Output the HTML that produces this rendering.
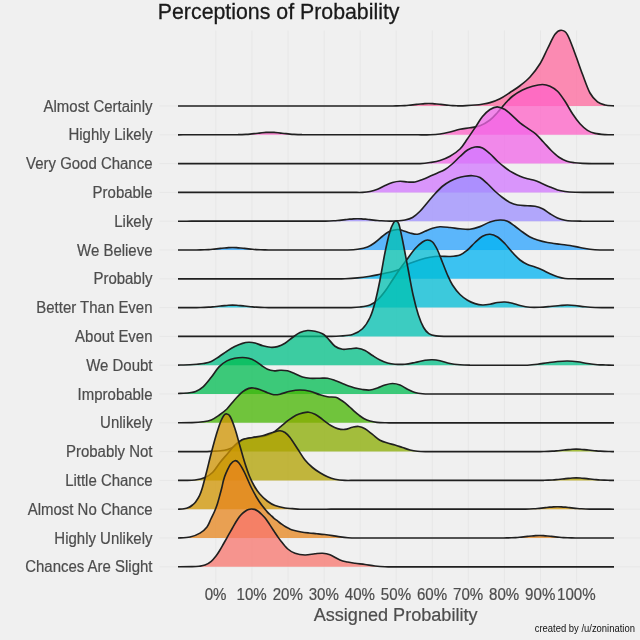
<!DOCTYPE html>
<html lang="en"><head><meta charset="utf-8"><title>Perceptions of Probability</title>
<style>
html,body{margin:0;padding:0;background:#f0f0f0;}
body{width:640px;height:640px;overflow:hidden;position:relative;font-family:"Liberation Sans",Arial,sans-serif;}
svg{position:absolute;left:0;top:0;display:block}
text{font-family:"Liberation Sans",Arial,sans-serif}
</style></head><body>
<svg width="640" height="640" viewBox="0 0 640 640">
<rect width="640" height="640" fill="#f0f0f0"/>
<path d="M215.90,30.50 V583.50 M251.97,30.50 V583.50 M288.04,30.50 V583.50 M324.11,30.50 V583.50 M360.18,30.50 V583.50 M396.25,30.50 V583.50 M432.32,30.50 V583.50 M468.39,30.50 V583.50 M504.46,30.50 V583.50 M540.53,30.50 V583.50 M576.60,30.50 V583.50 M159.50,106.00 H640.00 M159.50,134.80 H640.00 M159.50,163.60 H640.00 M159.50,192.40 H640.00 M159.50,221.20 H640.00 M159.50,250.00 H640.00 M159.50,278.80 H640.00 M159.50,307.60 H640.00 M159.50,336.40 H640.00 M159.50,365.20 H640.00 M159.50,394.00 H640.00 M159.50,422.80 H640.00 M159.50,451.60 H640.00 M159.50,480.40 H640.00 M159.50,509.20 H640.00 M159.50,538.00 H640.00 M159.50,566.80 H640.00" stroke="#e7e7e7" stroke-width="1.0" fill="none"/>
<g><path d="M178.00,106.00C179.49,106.00 183.97,106.00 186.95,106.00C189.93,106.00 192.91,106.00 195.90,106.00C198.88,106.00 201.86,106.00 204.84,106.00C207.83,105.99 210.81,105.99 213.79,105.99C216.77,105.99 219.76,105.99 222.74,105.99C225.72,105.99 228.70,105.99 231.69,105.99C234.67,105.99 237.65,105.99 240.64,105.99C243.62,105.99 246.60,105.99 249.58,105.99C252.57,105.99 255.55,105.99 258.53,105.98C261.51,105.98 264.50,105.98 267.48,105.98C270.46,105.98 273.44,105.98 276.43,105.98C279.41,105.98 282.39,105.98 285.38,105.98C288.36,105.98 291.34,105.98 294.32,105.98C297.31,105.98 300.29,105.98 303.27,105.98C306.25,105.98 309.24,105.98 312.22,105.97C315.20,105.97 318.18,105.97 321.17,105.97C324.15,105.97 327.13,105.97 330.11,105.97C333.10,105.97 336.08,105.97 339.06,105.97C342.05,105.97 345.03,105.97 348.01,105.97C350.99,105.97 353.98,105.97 356.96,105.97C359.94,105.97 362.92,105.97 365.91,105.96C368.89,105.96 371.87,105.96 374.85,105.96C377.84,105.96 380.82,105.96 383.80,105.96C386.78,105.96 390.59,105.97 392.75,105.96C394.91,105.95 395.42,105.93 396.75,105.90C398.08,105.87 399.42,105.84 400.75,105.79C402.08,105.74 403.42,105.67 404.75,105.59C406.08,105.51 407.42,105.41 408.75,105.29C410.08,105.17 411.42,105.03 412.75,104.88C414.08,104.73 415.42,104.56 416.75,104.41C418.08,104.26 419.42,104.09 420.75,103.96C422.08,103.83 423.42,103.70 424.75,103.62C426.08,103.54 427.42,103.50 428.75,103.50C430.08,103.50 431.42,103.54 432.75,103.62C434.08,103.70 435.42,103.83 436.75,103.96C438.08,104.09 439.42,104.26 440.75,104.41C442.08,104.56 443.42,104.73 444.75,104.88C446.08,105.03 447.42,105.17 448.75,105.29C450.08,105.41 451.42,105.51 452.75,105.59C454.08,105.67 455.42,105.74 456.75,105.79C458.08,105.84 459.21,105.92 460.75,105.90C462.29,105.88 463.62,105.80 466.00,105.65C468.38,105.50 472.33,105.24 475.00,105.00C477.67,104.76 479.50,104.60 482.00,104.20C484.50,103.80 487.00,103.51 490.00,102.60C493.00,101.69 496.67,100.43 500.00,98.75C503.33,97.07 506.67,94.67 510.00,92.50C513.33,90.33 516.67,88.33 520.00,85.75C523.33,83.17 526.67,80.67 530.00,77.00C533.33,73.33 537.08,68.46 540.00,63.75C542.92,59.04 545.00,53.67 547.50,48.75C550.00,43.83 552.71,37.28 555.00,34.20C557.29,31.13 559.17,30.20 561.25,30.30C563.33,30.40 565.21,30.93 567.50,34.80C569.79,38.67 572.50,46.92 575.00,53.50C577.50,60.08 580.00,67.72 582.50,74.30C585.00,80.88 587.50,88.40 590.00,93.00C592.50,97.60 595.00,99.90 597.50,101.90C600.00,103.90 602.25,104.34 605.00,105.00C607.75,105.66 612.50,105.71 614.00,105.85 L614.00,106.00 L178.00,106.00 Z" fill="rgb(255,104,158)" fill-opacity="0.75" stroke="none"/>
<path d="M178.00,106.00C179.49,106.00 183.97,106.00 186.95,106.00C189.93,106.00 192.91,106.00 195.90,106.00C198.88,106.00 201.86,106.00 204.84,106.00C207.83,105.99 210.81,105.99 213.79,105.99C216.77,105.99 219.76,105.99 222.74,105.99C225.72,105.99 228.70,105.99 231.69,105.99C234.67,105.99 237.65,105.99 240.64,105.99C243.62,105.99 246.60,105.99 249.58,105.99C252.57,105.99 255.55,105.99 258.53,105.98C261.51,105.98 264.50,105.98 267.48,105.98C270.46,105.98 273.44,105.98 276.43,105.98C279.41,105.98 282.39,105.98 285.38,105.98C288.36,105.98 291.34,105.98 294.32,105.98C297.31,105.98 300.29,105.98 303.27,105.98C306.25,105.98 309.24,105.98 312.22,105.97C315.20,105.97 318.18,105.97 321.17,105.97C324.15,105.97 327.13,105.97 330.11,105.97C333.10,105.97 336.08,105.97 339.06,105.97C342.05,105.97 345.03,105.97 348.01,105.97C350.99,105.97 353.98,105.97 356.96,105.97C359.94,105.97 362.92,105.97 365.91,105.96C368.89,105.96 371.87,105.96 374.85,105.96C377.84,105.96 380.82,105.96 383.80,105.96C386.78,105.96 390.59,105.97 392.75,105.96C394.91,105.95 395.42,105.93 396.75,105.90C398.08,105.87 399.42,105.84 400.75,105.79C402.08,105.74 403.42,105.67 404.75,105.59C406.08,105.51 407.42,105.41 408.75,105.29C410.08,105.17 411.42,105.03 412.75,104.88C414.08,104.73 415.42,104.56 416.75,104.41C418.08,104.26 419.42,104.09 420.75,103.96C422.08,103.83 423.42,103.70 424.75,103.62C426.08,103.54 427.42,103.50 428.75,103.50C430.08,103.50 431.42,103.54 432.75,103.62C434.08,103.70 435.42,103.83 436.75,103.96C438.08,104.09 439.42,104.26 440.75,104.41C442.08,104.56 443.42,104.73 444.75,104.88C446.08,105.03 447.42,105.17 448.75,105.29C450.08,105.41 451.42,105.51 452.75,105.59C454.08,105.67 455.42,105.74 456.75,105.79C458.08,105.84 459.21,105.92 460.75,105.90C462.29,105.88 463.62,105.80 466.00,105.65C468.38,105.50 472.33,105.24 475.00,105.00C477.67,104.76 479.50,104.60 482.00,104.20C484.50,103.80 487.00,103.51 490.00,102.60C493.00,101.69 496.67,100.43 500.00,98.75C503.33,97.07 506.67,94.67 510.00,92.50C513.33,90.33 516.67,88.33 520.00,85.75C523.33,83.17 526.67,80.67 530.00,77.00C533.33,73.33 537.08,68.46 540.00,63.75C542.92,59.04 545.00,53.67 547.50,48.75C550.00,43.83 552.71,37.28 555.00,34.20C557.29,31.13 559.17,30.20 561.25,30.30C563.33,30.40 565.21,30.93 567.50,34.80C569.79,38.67 572.50,46.92 575.00,53.50C577.50,60.08 580.00,67.72 582.50,74.30C585.00,80.88 587.50,88.40 590.00,93.00C592.50,97.60 595.00,99.90 597.50,101.90C600.00,103.90 602.25,104.34 605.00,105.00C607.75,105.66 612.50,105.71 614.00,105.85" fill="none" stroke="#202020" stroke-width="1.65" stroke-linejoin="round"/></g>
<g><path d="M178.00,134.80C179.33,134.80 183.33,134.80 186.00,134.79C188.67,134.79 191.33,134.79 194.00,134.79C196.67,134.79 199.33,134.78 202.00,134.78C204.67,134.78 207.33,134.78 210.00,134.78C212.67,134.78 215.33,134.77 218.00,134.77C220.67,134.77 223.33,134.77 226.00,134.77C228.67,134.76 232.00,134.77 234.00,134.76C236.00,134.75 236.67,134.73 238.00,134.70C239.33,134.67 240.67,134.64 242.00,134.59C243.33,134.54 244.67,134.47 246.00,134.39C247.33,134.31 248.67,134.21 250.00,134.09C251.33,133.97 252.67,133.83 254.00,133.68C255.33,133.53 256.67,133.36 258.00,133.21C259.33,133.06 260.67,132.89 262.00,132.76C263.33,132.63 264.67,132.50 266.00,132.42C267.33,132.34 268.67,132.30 270.00,132.30C271.33,132.30 272.67,132.34 274.00,132.42C275.33,132.50 276.67,132.63 278.00,132.76C279.33,132.89 280.67,133.06 282.00,133.21C283.33,133.36 284.67,133.53 286.00,133.68C287.33,133.83 288.67,133.97 290.00,134.09C291.33,134.21 292.67,134.31 294.00,134.39C295.33,134.47 296.67,134.54 298.00,134.59C299.33,134.64 300.67,134.67 302.00,134.70C303.33,134.73 303.86,134.75 306.00,134.76C308.14,134.77 311.90,134.76 314.86,134.76C317.81,134.76 320.76,134.76 323.71,134.77C326.67,134.77 329.62,134.77 332.57,134.77C335.52,134.77 338.48,134.77 341.43,134.77C344.38,134.77 347.33,134.77 350.29,134.77C353.24,134.78 356.19,134.78 359.14,134.78C362.10,134.78 365.05,134.78 368.00,134.78C370.95,134.78 373.90,134.78 376.86,134.78C379.81,134.78 382.76,134.78 385.71,134.79C388.67,134.79 391.62,134.79 394.57,134.79C397.52,134.79 400.48,134.79 403.43,134.79C406.38,134.79 409.33,134.79 412.29,134.79C415.24,134.80 418.19,134.80 421.14,134.80C424.10,134.80 426.86,134.93 430.00,134.80C433.14,134.67 436.67,134.47 440.00,134.00C443.33,133.53 446.67,132.78 450.00,132.00C453.33,131.22 456.67,130.00 460.00,129.30C463.33,128.60 466.67,128.38 470.00,127.80C473.33,127.22 476.67,127.10 480.00,125.80C483.33,124.50 487.08,122.22 490.00,120.00C492.92,117.78 495.00,115.21 497.50,112.50C500.00,109.79 502.50,106.46 505.00,103.75C507.50,101.04 509.58,98.54 512.50,96.25C515.42,93.96 519.17,91.67 522.50,90.00C525.83,88.33 529.17,87.17 532.50,86.25C535.83,85.33 539.58,84.50 542.50,84.50C545.42,84.50 547.50,85.12 550.00,86.25C552.50,87.38 555.00,88.75 557.50,91.25C560.00,93.75 562.50,97.50 565.00,101.25C567.50,105.00 570.00,110.00 572.50,113.75C575.00,117.50 577.50,120.97 580.00,123.75C582.50,126.53 585.00,128.79 587.50,130.40C590.00,132.01 592.08,132.70 595.00,133.40C597.92,134.10 601.83,134.37 605.00,134.60C608.17,134.83 612.50,134.77 614.00,134.80 L614.00,134.80 L178.00,134.80 Z" fill="rgb(255,97,199)" fill-opacity="0.75" stroke="none"/>
<path d="M178.00,134.80C179.33,134.80 183.33,134.80 186.00,134.79C188.67,134.79 191.33,134.79 194.00,134.79C196.67,134.79 199.33,134.78 202.00,134.78C204.67,134.78 207.33,134.78 210.00,134.78C212.67,134.78 215.33,134.77 218.00,134.77C220.67,134.77 223.33,134.77 226.00,134.77C228.67,134.76 232.00,134.77 234.00,134.76C236.00,134.75 236.67,134.73 238.00,134.70C239.33,134.67 240.67,134.64 242.00,134.59C243.33,134.54 244.67,134.47 246.00,134.39C247.33,134.31 248.67,134.21 250.00,134.09C251.33,133.97 252.67,133.83 254.00,133.68C255.33,133.53 256.67,133.36 258.00,133.21C259.33,133.06 260.67,132.89 262.00,132.76C263.33,132.63 264.67,132.50 266.00,132.42C267.33,132.34 268.67,132.30 270.00,132.30C271.33,132.30 272.67,132.34 274.00,132.42C275.33,132.50 276.67,132.63 278.00,132.76C279.33,132.89 280.67,133.06 282.00,133.21C283.33,133.36 284.67,133.53 286.00,133.68C287.33,133.83 288.67,133.97 290.00,134.09C291.33,134.21 292.67,134.31 294.00,134.39C295.33,134.47 296.67,134.54 298.00,134.59C299.33,134.64 300.67,134.67 302.00,134.70C303.33,134.73 303.86,134.75 306.00,134.76C308.14,134.77 311.90,134.76 314.86,134.76C317.81,134.76 320.76,134.76 323.71,134.77C326.67,134.77 329.62,134.77 332.57,134.77C335.52,134.77 338.48,134.77 341.43,134.77C344.38,134.77 347.33,134.77 350.29,134.77C353.24,134.78 356.19,134.78 359.14,134.78C362.10,134.78 365.05,134.78 368.00,134.78C370.95,134.78 373.90,134.78 376.86,134.78C379.81,134.78 382.76,134.78 385.71,134.79C388.67,134.79 391.62,134.79 394.57,134.79C397.52,134.79 400.48,134.79 403.43,134.79C406.38,134.79 409.33,134.79 412.29,134.79C415.24,134.80 418.19,134.80 421.14,134.80C424.10,134.80 426.86,134.93 430.00,134.80C433.14,134.67 436.67,134.47 440.00,134.00C443.33,133.53 446.67,132.78 450.00,132.00C453.33,131.22 456.67,130.00 460.00,129.30C463.33,128.60 466.67,128.38 470.00,127.80C473.33,127.22 476.67,127.10 480.00,125.80C483.33,124.50 487.08,122.22 490.00,120.00C492.92,117.78 495.00,115.21 497.50,112.50C500.00,109.79 502.50,106.46 505.00,103.75C507.50,101.04 509.58,98.54 512.50,96.25C515.42,93.96 519.17,91.67 522.50,90.00C525.83,88.33 529.17,87.17 532.50,86.25C535.83,85.33 539.58,84.50 542.50,84.50C545.42,84.50 547.50,85.12 550.00,86.25C552.50,87.38 555.00,88.75 557.50,91.25C560.00,93.75 562.50,97.50 565.00,101.25C567.50,105.00 570.00,110.00 572.50,113.75C575.00,117.50 577.50,120.97 580.00,123.75C582.50,126.53 585.00,128.79 587.50,130.40C590.00,132.01 592.08,132.70 595.00,133.40C597.92,134.10 601.83,134.37 605.00,134.60C608.17,134.83 612.50,134.77 614.00,134.80" fill="none" stroke="#202020" stroke-width="1.65" stroke-linejoin="round"/></g>
<g><path d="M178.00,163.60C179.49,163.60 183.98,163.60 186.96,163.60C189.95,163.60 192.94,163.60 195.93,163.60C198.91,163.60 201.90,163.60 204.89,163.60C207.88,163.60 210.86,163.60 213.85,163.60C216.84,163.60 219.83,163.60 222.81,163.60C225.80,163.60 228.79,163.60 231.78,163.60C234.77,163.60 237.75,163.60 240.74,163.60C243.73,163.60 246.72,163.60 249.70,163.60C252.69,163.60 255.68,163.60 258.67,163.60C261.65,163.60 264.64,163.60 267.63,163.60C270.62,163.60 273.60,163.60 276.59,163.60C279.58,163.60 282.57,163.60 285.56,163.60C288.54,163.60 291.53,163.60 294.52,163.60C297.51,163.60 300.49,163.60 303.48,163.60C306.47,163.60 309.46,163.60 312.44,163.60C315.43,163.60 318.42,163.60 321.41,163.60C324.40,163.60 327.38,163.60 330.37,163.60C333.36,163.60 336.35,163.60 339.33,163.60C342.32,163.60 345.31,163.60 348.30,163.60C351.28,163.60 354.27,163.60 357.26,163.60C360.25,163.60 363.23,163.60 366.22,163.60C369.21,163.60 372.20,163.60 375.19,163.60C378.17,163.60 381.16,163.60 384.15,163.60C387.14,163.60 390.12,163.60 393.11,163.60C396.10,163.60 399.09,163.60 402.07,163.60C405.06,163.60 408.05,163.60 411.04,163.60C414.02,163.60 416.84,163.78 420.00,163.60C423.16,163.42 426.67,163.02 430.00,162.50C433.33,161.98 436.67,161.54 440.00,160.50C443.33,159.46 446.67,158.17 450.00,156.25C453.33,154.33 457.08,151.92 460.00,149.00C462.92,146.08 465.00,142.28 467.50,138.75C470.00,135.22 472.50,131.49 475.00,127.80C477.50,124.11 480.00,119.65 482.50,116.60C485.00,113.55 487.55,111.12 490.00,109.50C492.45,107.88 494.70,106.85 497.20,106.85C499.70,106.85 502.45,108.01 505.00,109.50C507.55,110.99 510.00,113.57 512.50,115.80C515.00,118.03 517.45,120.80 520.00,122.90C522.55,125.00 525.20,126.57 527.80,128.40C530.40,130.23 533.00,131.63 535.60,133.90C538.20,136.17 540.79,139.23 543.40,142.00C546.01,144.77 548.65,147.95 551.25,150.50C553.85,153.05 556.39,155.51 559.00,157.30C561.61,159.09 564.28,160.33 566.90,161.25C569.52,162.17 572.10,162.44 574.70,162.80C577.30,163.16 579.62,163.27 582.50,163.40C585.38,163.53 589.19,163.57 592.00,163.60C594.81,163.63 596.89,163.60 599.33,163.60C601.78,163.60 604.22,163.60 606.67,163.60C609.11,163.60 612.78,163.60 614.00,163.60 L614.00,163.60 L178.00,163.60 Z" fill="rgb(241,102,232)" fill-opacity="0.75" stroke="none"/>
<path d="M178.00,163.60C179.49,163.60 183.98,163.60 186.96,163.60C189.95,163.60 192.94,163.60 195.93,163.60C198.91,163.60 201.90,163.60 204.89,163.60C207.88,163.60 210.86,163.60 213.85,163.60C216.84,163.60 219.83,163.60 222.81,163.60C225.80,163.60 228.79,163.60 231.78,163.60C234.77,163.60 237.75,163.60 240.74,163.60C243.73,163.60 246.72,163.60 249.70,163.60C252.69,163.60 255.68,163.60 258.67,163.60C261.65,163.60 264.64,163.60 267.63,163.60C270.62,163.60 273.60,163.60 276.59,163.60C279.58,163.60 282.57,163.60 285.56,163.60C288.54,163.60 291.53,163.60 294.52,163.60C297.51,163.60 300.49,163.60 303.48,163.60C306.47,163.60 309.46,163.60 312.44,163.60C315.43,163.60 318.42,163.60 321.41,163.60C324.40,163.60 327.38,163.60 330.37,163.60C333.36,163.60 336.35,163.60 339.33,163.60C342.32,163.60 345.31,163.60 348.30,163.60C351.28,163.60 354.27,163.60 357.26,163.60C360.25,163.60 363.23,163.60 366.22,163.60C369.21,163.60 372.20,163.60 375.19,163.60C378.17,163.60 381.16,163.60 384.15,163.60C387.14,163.60 390.12,163.60 393.11,163.60C396.10,163.60 399.09,163.60 402.07,163.60C405.06,163.60 408.05,163.60 411.04,163.60C414.02,163.60 416.84,163.78 420.00,163.60C423.16,163.42 426.67,163.02 430.00,162.50C433.33,161.98 436.67,161.54 440.00,160.50C443.33,159.46 446.67,158.17 450.00,156.25C453.33,154.33 457.08,151.92 460.00,149.00C462.92,146.08 465.00,142.28 467.50,138.75C470.00,135.22 472.50,131.49 475.00,127.80C477.50,124.11 480.00,119.65 482.50,116.60C485.00,113.55 487.55,111.12 490.00,109.50C492.45,107.88 494.70,106.85 497.20,106.85C499.70,106.85 502.45,108.01 505.00,109.50C507.55,110.99 510.00,113.57 512.50,115.80C515.00,118.03 517.45,120.80 520.00,122.90C522.55,125.00 525.20,126.57 527.80,128.40C530.40,130.23 533.00,131.63 535.60,133.90C538.20,136.17 540.79,139.23 543.40,142.00C546.01,144.77 548.65,147.95 551.25,150.50C553.85,153.05 556.39,155.51 559.00,157.30C561.61,159.09 564.28,160.33 566.90,161.25C569.52,162.17 572.10,162.44 574.70,162.80C577.30,163.16 579.62,163.27 582.50,163.40C585.38,163.53 589.19,163.57 592.00,163.60C594.81,163.63 596.89,163.60 599.33,163.60C601.78,163.60 604.22,163.60 606.67,163.60C609.11,163.60 612.78,163.60 614.00,163.60" fill="none" stroke="#202020" stroke-width="1.65" stroke-linejoin="round"/></g>
<g><path d="M178.00,192.40C179.46,192.40 183.86,192.40 186.79,192.40C189.71,192.40 192.64,192.40 195.57,192.40C198.50,192.40 201.43,192.40 204.36,192.40C207.29,192.40 210.21,192.40 213.14,192.40C216.07,192.40 219.00,192.40 221.93,192.40C224.86,192.40 227.79,192.40 230.71,192.40C233.64,192.40 236.57,192.40 239.50,192.40C242.43,192.40 245.36,192.40 248.29,192.40C251.21,192.40 254.14,192.40 257.07,192.40C260.00,192.40 262.93,192.40 265.86,192.40C268.79,192.40 271.71,192.40 274.64,192.40C277.57,192.40 280.50,192.40 283.43,192.40C286.36,192.40 289.29,192.40 292.21,192.40C295.14,192.40 298.07,192.40 301.00,192.40C303.93,192.40 306.86,192.40 309.79,192.40C312.71,192.40 315.64,192.40 318.57,192.40C321.50,192.40 324.43,192.40 327.36,192.40C330.29,192.40 333.21,192.40 336.14,192.40C339.07,192.40 342.00,192.40 344.93,192.40C347.86,192.40 350.79,192.40 353.71,192.40C356.64,192.40 359.79,192.55 362.50,192.40C365.21,192.25 367.50,192.03 370.00,191.50C372.50,190.97 375.00,190.25 377.50,189.25C380.00,188.25 382.50,186.62 385.00,185.50C387.50,184.38 390.00,183.21 392.50,182.50C395.00,181.79 397.50,181.33 400.00,181.25C402.50,181.17 405.00,181.88 407.50,182.00C410.00,182.12 412.50,182.42 415.00,182.00C417.50,181.58 420.00,180.46 422.50,179.50C425.00,178.54 427.50,177.33 430.00,176.25C432.50,175.17 435.00,174.12 437.50,173.00C440.00,171.88 442.50,171.04 445.00,169.50C447.50,167.96 450.00,165.92 452.50,163.75C455.00,161.58 457.50,158.79 460.00,156.50C462.50,154.21 465.00,151.58 467.50,150.00C470.00,148.42 472.50,147.33 475.00,147.00C477.50,146.67 480.00,146.88 482.50,148.00C485.00,149.12 487.50,151.54 490.00,153.75C492.50,155.96 495.00,158.96 497.50,161.25C500.00,163.54 502.50,165.62 505.00,167.50C507.50,169.38 510.00,171.04 512.50,172.50C515.00,173.96 517.50,175.21 520.00,176.25C522.50,177.29 525.00,178.04 527.50,178.75C530.00,179.46 532.50,179.67 535.00,180.50C537.50,181.33 540.00,182.67 542.50,183.75C545.00,184.83 547.50,185.96 550.00,187.00C552.50,188.04 555.00,189.25 557.50,190.00C560.00,190.75 562.08,191.12 565.00,191.50C567.92,191.88 571.67,192.10 575.00,192.25C578.33,192.40 582.12,192.38 585.00,192.40C587.88,192.43 589.83,192.40 592.25,192.40C594.67,192.40 597.08,192.40 599.50,192.40C601.92,192.40 604.33,192.40 606.75,192.40C609.17,192.40 612.79,192.40 614.00,192.40 L614.00,192.40 L178.00,192.40 Z" fill="rgb(210,119,255)" fill-opacity="0.75" stroke="none"/>
<path d="M178.00,192.40C179.46,192.40 183.86,192.40 186.79,192.40C189.71,192.40 192.64,192.40 195.57,192.40C198.50,192.40 201.43,192.40 204.36,192.40C207.29,192.40 210.21,192.40 213.14,192.40C216.07,192.40 219.00,192.40 221.93,192.40C224.86,192.40 227.79,192.40 230.71,192.40C233.64,192.40 236.57,192.40 239.50,192.40C242.43,192.40 245.36,192.40 248.29,192.40C251.21,192.40 254.14,192.40 257.07,192.40C260.00,192.40 262.93,192.40 265.86,192.40C268.79,192.40 271.71,192.40 274.64,192.40C277.57,192.40 280.50,192.40 283.43,192.40C286.36,192.40 289.29,192.40 292.21,192.40C295.14,192.40 298.07,192.40 301.00,192.40C303.93,192.40 306.86,192.40 309.79,192.40C312.71,192.40 315.64,192.40 318.57,192.40C321.50,192.40 324.43,192.40 327.36,192.40C330.29,192.40 333.21,192.40 336.14,192.40C339.07,192.40 342.00,192.40 344.93,192.40C347.86,192.40 350.79,192.40 353.71,192.40C356.64,192.40 359.79,192.55 362.50,192.40C365.21,192.25 367.50,192.03 370.00,191.50C372.50,190.97 375.00,190.25 377.50,189.25C380.00,188.25 382.50,186.62 385.00,185.50C387.50,184.38 390.00,183.21 392.50,182.50C395.00,181.79 397.50,181.33 400.00,181.25C402.50,181.17 405.00,181.88 407.50,182.00C410.00,182.12 412.50,182.42 415.00,182.00C417.50,181.58 420.00,180.46 422.50,179.50C425.00,178.54 427.50,177.33 430.00,176.25C432.50,175.17 435.00,174.12 437.50,173.00C440.00,171.88 442.50,171.04 445.00,169.50C447.50,167.96 450.00,165.92 452.50,163.75C455.00,161.58 457.50,158.79 460.00,156.50C462.50,154.21 465.00,151.58 467.50,150.00C470.00,148.42 472.50,147.33 475.00,147.00C477.50,146.67 480.00,146.88 482.50,148.00C485.00,149.12 487.50,151.54 490.00,153.75C492.50,155.96 495.00,158.96 497.50,161.25C500.00,163.54 502.50,165.62 505.00,167.50C507.50,169.38 510.00,171.04 512.50,172.50C515.00,173.96 517.50,175.21 520.00,176.25C522.50,177.29 525.00,178.04 527.50,178.75C530.00,179.46 532.50,179.67 535.00,180.50C537.50,181.33 540.00,182.67 542.50,183.75C545.00,184.83 547.50,185.96 550.00,187.00C552.50,188.04 555.00,189.25 557.50,190.00C560.00,190.75 562.08,191.12 565.00,191.50C567.92,191.88 571.67,192.10 575.00,192.25C578.33,192.40 582.12,192.38 585.00,192.40C587.88,192.43 589.83,192.40 592.25,192.40C594.67,192.40 597.08,192.40 599.50,192.40C601.92,192.40 604.33,192.40 606.75,192.40C609.17,192.40 612.79,192.40 614.00,192.40" fill="none" stroke="#202020" stroke-width="1.65" stroke-linejoin="round"/></g>
<g><path d="M178.00,221.20C179.49,221.20 183.98,221.20 186.97,221.20C189.96,221.20 192.95,221.20 195.94,221.19C198.93,221.19 201.92,221.19 204.91,221.19C207.90,221.19 210.89,221.19 213.88,221.19C216.86,221.19 219.85,221.19 222.84,221.19C225.83,221.19 228.82,221.19 231.81,221.19C234.80,221.18 237.79,221.18 240.78,221.18C243.77,221.18 246.76,221.18 249.75,221.18C252.74,221.18 255.73,221.18 258.72,221.18C261.71,221.18 264.70,221.18 267.69,221.17C270.68,221.17 273.67,221.17 276.66,221.17C279.65,221.17 282.64,221.17 285.62,221.17C288.61,221.17 291.60,221.17 294.59,221.17C297.58,221.17 300.57,221.17 303.56,221.16C306.55,221.16 309.54,221.16 312.53,221.16C315.52,221.16 319.34,221.17 321.50,221.16C323.66,221.15 324.17,221.13 325.50,221.10C326.83,221.07 328.17,221.04 329.50,220.99C330.83,220.94 332.17,220.87 333.50,220.79C334.83,220.71 336.17,220.61 337.50,220.49C338.83,220.37 340.17,220.23 341.50,220.08C342.83,219.93 344.17,219.76 345.50,219.61C346.83,219.46 348.17,219.29 349.50,219.16C350.83,219.03 352.17,218.90 353.50,218.82C354.83,218.74 356.17,218.70 357.50,218.70C358.83,218.70 360.17,218.74 361.50,218.82C362.83,218.90 364.17,219.03 365.50,219.16C366.83,219.29 368.17,219.46 369.50,219.61C370.83,219.76 372.17,219.93 373.50,220.08C374.83,220.23 376.17,220.37 377.50,220.49C378.83,220.61 380.17,220.71 381.50,220.79C382.83,220.87 384.17,220.94 385.50,220.99C386.83,221.04 387.92,221.10 389.50,221.10C391.08,221.10 392.42,221.18 395.00,221.00C397.58,220.82 402.08,220.58 405.00,220.00C407.92,219.42 410.00,218.96 412.50,217.50C415.00,216.04 417.50,213.75 420.00,211.25C422.50,208.75 425.00,205.42 427.50,202.50C430.00,199.58 432.50,196.46 435.00,193.75C437.50,191.04 440.00,188.33 442.50,186.25C445.00,184.17 447.50,182.62 450.00,181.25C452.50,179.88 455.00,178.83 457.50,178.00C460.00,177.17 462.50,176.62 465.00,176.25C467.50,175.88 470.00,175.54 472.50,175.75C475.00,175.96 477.50,176.17 480.00,177.50C482.50,178.83 485.00,181.46 487.50,183.75C490.00,186.04 492.50,188.96 495.00,191.25C497.50,193.54 500.00,195.62 502.50,197.50C505.00,199.38 507.50,201.25 510.00,202.50C512.50,203.75 514.58,204.46 517.50,205.00C520.42,205.54 524.58,205.54 527.50,205.75C530.42,205.96 532.50,205.75 535.00,206.25C537.50,206.75 540.00,207.50 542.50,208.75C545.00,210.00 547.50,212.21 550.00,213.75C552.50,215.29 555.00,216.92 557.50,218.00C560.00,219.08 562.50,219.75 565.00,220.25C567.50,220.75 569.67,220.84 572.50,221.00C575.33,221.16 579.08,221.17 582.00,221.20C584.92,221.23 587.33,221.20 590.00,221.20C592.67,221.20 595.33,221.20 598.00,221.20C600.67,221.20 603.33,221.20 606.00,221.20C608.67,221.20 612.67,221.20 614.00,221.20 L614.00,221.20 L178.00,221.20 Z" fill="rgb(156,141,255)" fill-opacity="0.75" stroke="none"/>
<path d="M178.00,221.20C179.49,221.20 183.98,221.20 186.97,221.20C189.96,221.20 192.95,221.20 195.94,221.19C198.93,221.19 201.92,221.19 204.91,221.19C207.90,221.19 210.89,221.19 213.88,221.19C216.86,221.19 219.85,221.19 222.84,221.19C225.83,221.19 228.82,221.19 231.81,221.19C234.80,221.18 237.79,221.18 240.78,221.18C243.77,221.18 246.76,221.18 249.75,221.18C252.74,221.18 255.73,221.18 258.72,221.18C261.71,221.18 264.70,221.18 267.69,221.17C270.68,221.17 273.67,221.17 276.66,221.17C279.65,221.17 282.64,221.17 285.62,221.17C288.61,221.17 291.60,221.17 294.59,221.17C297.58,221.17 300.57,221.17 303.56,221.16C306.55,221.16 309.54,221.16 312.53,221.16C315.52,221.16 319.34,221.17 321.50,221.16C323.66,221.15 324.17,221.13 325.50,221.10C326.83,221.07 328.17,221.04 329.50,220.99C330.83,220.94 332.17,220.87 333.50,220.79C334.83,220.71 336.17,220.61 337.50,220.49C338.83,220.37 340.17,220.23 341.50,220.08C342.83,219.93 344.17,219.76 345.50,219.61C346.83,219.46 348.17,219.29 349.50,219.16C350.83,219.03 352.17,218.90 353.50,218.82C354.83,218.74 356.17,218.70 357.50,218.70C358.83,218.70 360.17,218.74 361.50,218.82C362.83,218.90 364.17,219.03 365.50,219.16C366.83,219.29 368.17,219.46 369.50,219.61C370.83,219.76 372.17,219.93 373.50,220.08C374.83,220.23 376.17,220.37 377.50,220.49C378.83,220.61 380.17,220.71 381.50,220.79C382.83,220.87 384.17,220.94 385.50,220.99C386.83,221.04 387.92,221.10 389.50,221.10C391.08,221.10 392.42,221.18 395.00,221.00C397.58,220.82 402.08,220.58 405.00,220.00C407.92,219.42 410.00,218.96 412.50,217.50C415.00,216.04 417.50,213.75 420.00,211.25C422.50,208.75 425.00,205.42 427.50,202.50C430.00,199.58 432.50,196.46 435.00,193.75C437.50,191.04 440.00,188.33 442.50,186.25C445.00,184.17 447.50,182.62 450.00,181.25C452.50,179.88 455.00,178.83 457.50,178.00C460.00,177.17 462.50,176.62 465.00,176.25C467.50,175.88 470.00,175.54 472.50,175.75C475.00,175.96 477.50,176.17 480.00,177.50C482.50,178.83 485.00,181.46 487.50,183.75C490.00,186.04 492.50,188.96 495.00,191.25C497.50,193.54 500.00,195.62 502.50,197.50C505.00,199.38 507.50,201.25 510.00,202.50C512.50,203.75 514.58,204.46 517.50,205.00C520.42,205.54 524.58,205.54 527.50,205.75C530.42,205.96 532.50,205.75 535.00,206.25C537.50,206.75 540.00,207.50 542.50,208.75C545.00,210.00 547.50,212.21 550.00,213.75C552.50,215.29 555.00,216.92 557.50,218.00C560.00,219.08 562.50,219.75 565.00,220.25C567.50,220.75 569.67,220.84 572.50,221.00C575.33,221.16 579.08,221.17 582.00,221.20C584.92,221.23 587.33,221.20 590.00,221.20C592.67,221.20 595.33,221.20 598.00,221.20C600.67,221.20 603.33,221.20 606.00,221.20C608.67,221.20 612.67,221.20 614.00,221.20" fill="none" stroke="#202020" stroke-width="1.65" stroke-linejoin="round"/></g>
<g><path d="M178.00,250.00C179.03,250.00 182.11,249.99 184.17,249.99C186.22,249.98 188.28,249.98 190.33,249.97C192.39,249.97 194.81,249.97 196.50,249.96C198.19,249.95 199.17,249.93 200.50,249.90C201.83,249.87 203.17,249.84 204.50,249.79C205.83,249.74 207.17,249.67 208.50,249.59C209.83,249.51 211.17,249.41 212.50,249.29C213.83,249.17 215.17,249.03 216.50,248.88C217.83,248.73 219.17,248.56 220.50,248.41C221.83,248.26 223.17,248.09 224.50,247.96C225.83,247.83 227.17,247.70 228.50,247.62C229.83,247.54 231.17,247.50 232.50,247.50C233.83,247.50 235.17,247.54 236.50,247.62C237.83,247.70 239.17,247.83 240.50,247.96C241.83,248.09 243.17,248.26 244.50,248.41C245.83,248.56 247.17,248.73 248.50,248.88C249.83,249.03 251.17,249.17 252.50,249.29C253.83,249.41 255.17,249.51 256.50,249.59C257.83,249.67 259.17,249.74 260.50,249.79C261.83,249.84 263.17,249.87 264.50,249.90C265.83,249.93 266.37,249.95 268.50,249.96C270.63,249.97 274.35,249.96 277.28,249.96C280.20,249.97 283.13,249.97 286.06,249.97C288.98,249.97 291.91,249.97 294.83,249.97C297.76,249.97 300.69,249.98 303.61,249.98C306.54,249.98 309.46,249.98 312.39,249.98C315.31,249.98 318.24,249.99 321.17,249.99C324.09,249.99 327.02,249.99 329.94,249.99C332.87,249.99 335.80,249.99 338.72,250.00C341.65,250.00 344.37,250.12 347.50,250.00C350.63,249.88 354.17,249.75 357.50,249.25C360.83,248.75 364.58,248.12 367.50,247.00C370.42,245.88 372.50,244.29 375.00,242.50C377.50,240.71 380.21,238.04 382.50,236.25C384.79,234.46 386.25,232.88 388.75,231.75C391.25,230.62 395.21,229.71 397.50,229.50C399.79,229.29 400.42,229.92 402.50,230.50C404.58,231.08 407.50,232.38 410.00,233.00C412.50,233.62 415.00,234.54 417.50,234.25C420.00,233.96 422.50,232.25 425.00,231.25C427.50,230.25 430.00,229.00 432.50,228.25C435.00,227.50 437.08,226.88 440.00,226.75C442.92,226.62 446.67,227.17 450.00,227.50C453.33,227.83 456.67,228.46 460.00,228.75C463.33,229.04 466.67,229.61 470.00,229.25C473.33,228.89 476.67,227.81 480.00,226.60C483.33,225.39 486.67,223.10 490.00,222.00C493.33,220.90 497.08,220.12 500.00,220.00C502.92,219.88 505.00,220.21 507.50,221.25C510.00,222.29 512.50,224.46 515.00,226.25C517.50,228.04 520.00,230.21 522.50,232.00C525.00,233.79 527.50,235.67 530.00,237.00C532.50,238.33 534.58,239.08 537.50,240.00C540.42,240.92 543.75,241.79 547.50,242.50C551.25,243.21 556.25,243.75 560.00,244.25C563.75,244.75 566.67,244.96 570.00,245.50C573.33,246.04 576.67,246.88 580.00,247.50C583.33,248.12 586.67,248.83 590.00,249.25C593.33,249.67 596.00,249.88 600.00,250.00C604.00,250.12 611.67,250.00 614.00,250.00 L614.00,250.00 L178.00,250.00 Z" fill="rgb(41,163,255)" fill-opacity="0.75" stroke="none"/>
<path d="M178.00,250.00C179.03,250.00 182.11,249.99 184.17,249.99C186.22,249.98 188.28,249.98 190.33,249.97C192.39,249.97 194.81,249.97 196.50,249.96C198.19,249.95 199.17,249.93 200.50,249.90C201.83,249.87 203.17,249.84 204.50,249.79C205.83,249.74 207.17,249.67 208.50,249.59C209.83,249.51 211.17,249.41 212.50,249.29C213.83,249.17 215.17,249.03 216.50,248.88C217.83,248.73 219.17,248.56 220.50,248.41C221.83,248.26 223.17,248.09 224.50,247.96C225.83,247.83 227.17,247.70 228.50,247.62C229.83,247.54 231.17,247.50 232.50,247.50C233.83,247.50 235.17,247.54 236.50,247.62C237.83,247.70 239.17,247.83 240.50,247.96C241.83,248.09 243.17,248.26 244.50,248.41C245.83,248.56 247.17,248.73 248.50,248.88C249.83,249.03 251.17,249.17 252.50,249.29C253.83,249.41 255.17,249.51 256.50,249.59C257.83,249.67 259.17,249.74 260.50,249.79C261.83,249.84 263.17,249.87 264.50,249.90C265.83,249.93 266.37,249.95 268.50,249.96C270.63,249.97 274.35,249.96 277.28,249.96C280.20,249.97 283.13,249.97 286.06,249.97C288.98,249.97 291.91,249.97 294.83,249.97C297.76,249.97 300.69,249.98 303.61,249.98C306.54,249.98 309.46,249.98 312.39,249.98C315.31,249.98 318.24,249.99 321.17,249.99C324.09,249.99 327.02,249.99 329.94,249.99C332.87,249.99 335.80,249.99 338.72,250.00C341.65,250.00 344.37,250.12 347.50,250.00C350.63,249.88 354.17,249.75 357.50,249.25C360.83,248.75 364.58,248.12 367.50,247.00C370.42,245.88 372.50,244.29 375.00,242.50C377.50,240.71 380.21,238.04 382.50,236.25C384.79,234.46 386.25,232.88 388.75,231.75C391.25,230.62 395.21,229.71 397.50,229.50C399.79,229.29 400.42,229.92 402.50,230.50C404.58,231.08 407.50,232.38 410.00,233.00C412.50,233.62 415.00,234.54 417.50,234.25C420.00,233.96 422.50,232.25 425.00,231.25C427.50,230.25 430.00,229.00 432.50,228.25C435.00,227.50 437.08,226.88 440.00,226.75C442.92,226.62 446.67,227.17 450.00,227.50C453.33,227.83 456.67,228.46 460.00,228.75C463.33,229.04 466.67,229.61 470.00,229.25C473.33,228.89 476.67,227.81 480.00,226.60C483.33,225.39 486.67,223.10 490.00,222.00C493.33,220.90 497.08,220.12 500.00,220.00C502.92,219.88 505.00,220.21 507.50,221.25C510.00,222.29 512.50,224.46 515.00,226.25C517.50,228.04 520.00,230.21 522.50,232.00C525.00,233.79 527.50,235.67 530.00,237.00C532.50,238.33 534.58,239.08 537.50,240.00C540.42,240.92 543.75,241.79 547.50,242.50C551.25,243.21 556.25,243.75 560.00,244.25C563.75,244.75 566.67,244.96 570.00,245.50C573.33,246.04 576.67,246.88 580.00,247.50C583.33,248.12 586.67,248.83 590.00,249.25C593.33,249.67 596.00,249.88 600.00,250.00C604.00,250.12 611.67,250.00 614.00,250.00" fill="none" stroke="#202020" stroke-width="1.65" stroke-linejoin="round"/></g>
<g><path d="M178.00,278.80C179.46,278.80 183.86,278.80 186.79,278.80C189.72,278.80 192.65,278.80 195.58,278.80C198.51,278.80 201.44,278.80 204.37,278.80C207.30,278.80 210.23,278.80 213.16,278.80C216.09,278.80 219.02,278.80 221.95,278.80C224.88,278.80 227.81,278.80 230.74,278.80C233.67,278.80 236.60,278.80 239.53,278.80C242.46,278.80 245.39,278.80 248.32,278.80C251.25,278.80 254.18,278.80 257.11,278.80C260.04,278.80 262.96,278.80 265.89,278.80C268.82,278.80 271.75,278.80 274.68,278.80C277.61,278.80 280.54,278.80 283.47,278.80C286.40,278.80 289.33,278.80 292.26,278.80C295.19,278.80 298.12,278.80 301.05,278.80C303.98,278.80 306.91,278.80 309.84,278.80C312.77,278.80 315.70,278.80 318.63,278.80C321.56,278.80 324.49,278.80 327.42,278.80C330.35,278.80 333.28,278.80 336.21,278.80C339.14,278.80 341.45,278.95 345.00,278.80C348.55,278.65 353.33,278.33 357.50,277.90C361.67,277.47 366.25,276.80 370.00,276.20C373.75,275.60 376.67,274.95 380.00,274.30C383.33,273.65 387.17,272.97 390.00,272.30C392.83,271.63 395.00,271.02 397.00,270.30C399.00,269.58 400.50,268.78 402.00,268.00C403.50,267.22 404.67,266.38 406.00,265.60C407.33,264.82 407.67,264.28 410.00,263.30C412.33,262.32 416.67,260.70 420.00,259.70C423.33,258.70 426.67,257.88 430.00,257.30C433.33,256.73 436.67,256.38 440.00,256.25C443.33,256.12 446.67,256.71 450.00,256.50C453.33,256.29 457.08,256.08 460.00,255.00C462.92,253.92 465.00,252.08 467.50,250.00C470.00,247.92 472.50,244.79 475.00,242.50C477.50,240.21 480.00,237.62 482.50,236.25C485.00,234.88 487.50,234.12 490.00,234.25C492.50,234.38 495.00,235.42 497.50,237.00C500.00,238.58 502.50,241.17 505.00,243.75C507.50,246.33 510.00,249.79 512.50,252.50C515.00,255.21 517.50,258.00 520.00,260.00C522.50,262.00 525.00,263.33 527.50,264.50C530.00,265.67 532.50,266.08 535.00,267.00C537.50,267.92 540.00,268.88 542.50,270.00C545.00,271.12 547.50,272.62 550.00,273.75C552.50,274.88 555.00,275.96 557.50,276.75C560.00,277.54 562.08,278.16 565.00,278.50C567.92,278.84 572.03,278.75 575.00,278.80C577.97,278.85 580.20,278.80 582.80,278.80C585.40,278.80 588.00,278.80 590.60,278.80C593.20,278.80 595.80,278.80 598.40,278.80C601.00,278.80 603.60,278.80 606.20,278.80C608.80,278.80 612.70,278.80 614.00,278.80 L614.00,278.80 L178.00,278.80 Z" fill="rgb(0,179,242)" fill-opacity="0.75" stroke="none"/>
<path d="M178.00,278.80C179.46,278.80 183.86,278.80 186.79,278.80C189.72,278.80 192.65,278.80 195.58,278.80C198.51,278.80 201.44,278.80 204.37,278.80C207.30,278.80 210.23,278.80 213.16,278.80C216.09,278.80 219.02,278.80 221.95,278.80C224.88,278.80 227.81,278.80 230.74,278.80C233.67,278.80 236.60,278.80 239.53,278.80C242.46,278.80 245.39,278.80 248.32,278.80C251.25,278.80 254.18,278.80 257.11,278.80C260.04,278.80 262.96,278.80 265.89,278.80C268.82,278.80 271.75,278.80 274.68,278.80C277.61,278.80 280.54,278.80 283.47,278.80C286.40,278.80 289.33,278.80 292.26,278.80C295.19,278.80 298.12,278.80 301.05,278.80C303.98,278.80 306.91,278.80 309.84,278.80C312.77,278.80 315.70,278.80 318.63,278.80C321.56,278.80 324.49,278.80 327.42,278.80C330.35,278.80 333.28,278.80 336.21,278.80C339.14,278.80 341.45,278.95 345.00,278.80C348.55,278.65 353.33,278.33 357.50,277.90C361.67,277.47 366.25,276.80 370.00,276.20C373.75,275.60 376.67,274.95 380.00,274.30C383.33,273.65 387.17,272.97 390.00,272.30C392.83,271.63 395.00,271.02 397.00,270.30C399.00,269.58 400.50,268.78 402.00,268.00C403.50,267.22 404.67,266.38 406.00,265.60C407.33,264.82 407.67,264.28 410.00,263.30C412.33,262.32 416.67,260.70 420.00,259.70C423.33,258.70 426.67,257.88 430.00,257.30C433.33,256.73 436.67,256.38 440.00,256.25C443.33,256.12 446.67,256.71 450.00,256.50C453.33,256.29 457.08,256.08 460.00,255.00C462.92,253.92 465.00,252.08 467.50,250.00C470.00,247.92 472.50,244.79 475.00,242.50C477.50,240.21 480.00,237.62 482.50,236.25C485.00,234.88 487.50,234.12 490.00,234.25C492.50,234.38 495.00,235.42 497.50,237.00C500.00,238.58 502.50,241.17 505.00,243.75C507.50,246.33 510.00,249.79 512.50,252.50C515.00,255.21 517.50,258.00 520.00,260.00C522.50,262.00 525.00,263.33 527.50,264.50C530.00,265.67 532.50,266.08 535.00,267.00C537.50,267.92 540.00,268.88 542.50,270.00C545.00,271.12 547.50,272.62 550.00,273.75C552.50,274.88 555.00,275.96 557.50,276.75C560.00,277.54 562.08,278.16 565.00,278.50C567.92,278.84 572.03,278.75 575.00,278.80C577.97,278.85 580.20,278.80 582.80,278.80C585.40,278.80 588.00,278.80 590.60,278.80C593.20,278.80 595.80,278.80 598.40,278.80C601.00,278.80 603.60,278.80 606.20,278.80C608.80,278.80 612.70,278.80 614.00,278.80" fill="none" stroke="#202020" stroke-width="1.65" stroke-linejoin="round"/></g>
<g><path d="M178.00,307.60C179.03,307.60 182.11,307.59 184.17,307.59C186.22,307.58 188.28,307.58 190.33,307.57C192.39,307.57 194.81,307.57 196.50,307.56C198.19,307.55 199.17,307.53 200.50,307.50C201.83,307.47 203.17,307.44 204.50,307.39C205.83,307.34 207.17,307.27 208.50,307.19C209.83,307.11 211.17,307.01 212.50,306.89C213.83,306.77 215.17,306.63 216.50,306.48C217.83,306.33 219.17,306.16 220.50,306.01C221.83,305.86 223.17,305.69 224.50,305.56C225.83,305.43 227.17,305.30 228.50,305.22C229.83,305.14 231.17,305.10 232.50,305.10C233.83,305.10 235.17,305.14 236.50,305.22C237.83,305.30 239.17,305.43 240.50,305.56C241.83,305.69 243.17,305.86 244.50,306.01C245.83,306.16 247.17,306.33 248.50,306.48C249.83,306.63 251.17,306.77 252.50,306.89C253.83,307.01 255.17,307.11 256.50,307.19C257.83,307.27 259.17,307.34 260.50,307.39C261.83,307.44 263.17,307.47 264.50,307.50C265.83,307.53 266.48,307.55 268.50,307.56C270.52,307.57 273.93,307.56 276.65,307.56C279.37,307.57 282.08,307.57 284.80,307.57C287.52,307.57 290.23,307.57 292.95,307.57C295.67,307.57 298.38,307.57 301.10,307.58C303.82,307.58 306.53,307.58 309.25,307.58C311.97,307.58 314.68,307.58 317.40,307.58C320.12,307.59 322.83,307.59 325.55,307.59C328.27,307.59 330.98,307.59 333.70,307.59C336.42,307.59 339.13,307.59 341.85,307.60C344.57,307.60 346.98,307.70 350.00,307.60C353.02,307.50 356.67,307.43 360.00,307.00C363.33,306.57 367.08,306.17 370.00,305.00C372.92,303.83 375.00,302.29 377.50,300.00C380.00,297.71 382.50,294.58 385.00,291.25C387.50,287.92 390.00,283.75 392.50,280.00C395.00,276.25 397.50,272.29 400.00,268.75C402.50,265.21 405.00,262.08 407.50,258.75C410.00,255.42 412.50,251.54 415.00,248.75C417.50,245.96 420.42,243.46 422.50,242.00C424.58,240.54 425.83,240.00 427.50,240.00C429.17,240.00 430.83,240.33 432.50,242.00C434.17,243.67 435.83,246.58 437.50,250.00C439.17,253.42 440.83,258.33 442.50,262.50C444.17,266.67 445.83,271.25 447.50,275.00C449.17,278.75 450.42,281.75 452.50,285.00C454.58,288.25 457.50,291.97 460.00,294.50C462.50,297.03 465.00,298.68 467.50,300.20C470.00,301.72 472.50,302.80 475.00,303.60C477.50,304.40 480.00,304.89 482.50,305.00C485.00,305.11 487.50,304.67 490.00,304.25C492.50,303.83 495.00,302.88 497.50,302.50C500.00,302.12 502.50,301.88 505.00,302.00C507.50,302.12 510.00,302.67 512.50,303.25C515.00,303.83 517.08,304.83 520.00,305.50C522.92,306.17 526.67,306.96 530.00,307.25C533.33,307.54 536.67,307.38 540.00,307.25C543.33,307.12 546.67,306.79 550.00,306.50C553.33,306.21 557.08,305.75 560.00,305.50C562.92,305.25 565.00,305.00 567.50,305.00C570.00,305.00 572.08,305.21 575.00,305.50C577.92,305.79 581.67,306.42 585.00,306.75C588.33,307.08 591.67,307.36 595.00,307.50C598.33,307.64 601.83,307.58 605.00,307.60C608.17,307.62 612.50,307.60 614.00,307.60 L614.00,307.60 L178.00,307.60 Z" fill="rgb(0,188,214)" fill-opacity="0.75" stroke="none"/>
<path d="M178.00,307.60C179.03,307.60 182.11,307.59 184.17,307.59C186.22,307.58 188.28,307.58 190.33,307.57C192.39,307.57 194.81,307.57 196.50,307.56C198.19,307.55 199.17,307.53 200.50,307.50C201.83,307.47 203.17,307.44 204.50,307.39C205.83,307.34 207.17,307.27 208.50,307.19C209.83,307.11 211.17,307.01 212.50,306.89C213.83,306.77 215.17,306.63 216.50,306.48C217.83,306.33 219.17,306.16 220.50,306.01C221.83,305.86 223.17,305.69 224.50,305.56C225.83,305.43 227.17,305.30 228.50,305.22C229.83,305.14 231.17,305.10 232.50,305.10C233.83,305.10 235.17,305.14 236.50,305.22C237.83,305.30 239.17,305.43 240.50,305.56C241.83,305.69 243.17,305.86 244.50,306.01C245.83,306.16 247.17,306.33 248.50,306.48C249.83,306.63 251.17,306.77 252.50,306.89C253.83,307.01 255.17,307.11 256.50,307.19C257.83,307.27 259.17,307.34 260.50,307.39C261.83,307.44 263.17,307.47 264.50,307.50C265.83,307.53 266.48,307.55 268.50,307.56C270.52,307.57 273.93,307.56 276.65,307.56C279.37,307.57 282.08,307.57 284.80,307.57C287.52,307.57 290.23,307.57 292.95,307.57C295.67,307.57 298.38,307.57 301.10,307.58C303.82,307.58 306.53,307.58 309.25,307.58C311.97,307.58 314.68,307.58 317.40,307.58C320.12,307.59 322.83,307.59 325.55,307.59C328.27,307.59 330.98,307.59 333.70,307.59C336.42,307.59 339.13,307.59 341.85,307.60C344.57,307.60 346.98,307.70 350.00,307.60C353.02,307.50 356.67,307.43 360.00,307.00C363.33,306.57 367.08,306.17 370.00,305.00C372.92,303.83 375.00,302.29 377.50,300.00C380.00,297.71 382.50,294.58 385.00,291.25C387.50,287.92 390.00,283.75 392.50,280.00C395.00,276.25 397.50,272.29 400.00,268.75C402.50,265.21 405.00,262.08 407.50,258.75C410.00,255.42 412.50,251.54 415.00,248.75C417.50,245.96 420.42,243.46 422.50,242.00C424.58,240.54 425.83,240.00 427.50,240.00C429.17,240.00 430.83,240.33 432.50,242.00C434.17,243.67 435.83,246.58 437.50,250.00C439.17,253.42 440.83,258.33 442.50,262.50C444.17,266.67 445.83,271.25 447.50,275.00C449.17,278.75 450.42,281.75 452.50,285.00C454.58,288.25 457.50,291.97 460.00,294.50C462.50,297.03 465.00,298.68 467.50,300.20C470.00,301.72 472.50,302.80 475.00,303.60C477.50,304.40 480.00,304.89 482.50,305.00C485.00,305.11 487.50,304.67 490.00,304.25C492.50,303.83 495.00,302.88 497.50,302.50C500.00,302.12 502.50,301.88 505.00,302.00C507.50,302.12 510.00,302.67 512.50,303.25C515.00,303.83 517.08,304.83 520.00,305.50C522.92,306.17 526.67,306.96 530.00,307.25C533.33,307.54 536.67,307.38 540.00,307.25C543.33,307.12 546.67,306.79 550.00,306.50C553.33,306.21 557.08,305.75 560.00,305.50C562.92,305.25 565.00,305.00 567.50,305.00C570.00,305.00 572.08,305.21 575.00,305.50C577.92,305.79 581.67,306.42 585.00,306.75C588.33,307.08 591.67,307.36 595.00,307.50C598.33,307.64 601.83,307.58 605.00,307.60C608.17,307.62 612.50,307.60 614.00,307.60" fill="none" stroke="#202020" stroke-width="1.65" stroke-linejoin="round"/></g>
<g><path d="M178.00,336.40C179.49,336.40 183.96,336.40 186.94,336.40C189.92,336.40 192.90,336.40 195.88,336.40C198.86,336.40 201.84,336.40 204.82,336.40C207.80,336.40 210.78,336.40 213.76,336.40C216.75,336.40 219.73,336.40 222.71,336.40C225.69,336.40 228.67,336.40 231.65,336.40C234.63,336.40 237.61,336.40 240.59,336.40C243.57,336.40 246.55,336.40 249.53,336.40C252.51,336.40 255.49,336.40 258.47,336.40C261.45,336.40 264.43,336.40 267.41,336.40C270.39,336.40 273.37,336.40 276.35,336.40C279.33,336.40 282.31,336.40 285.29,336.40C288.27,336.40 291.25,336.40 294.24,336.40C297.22,336.40 300.20,336.40 303.18,336.40C306.16,336.40 309.14,336.40 312.12,336.40C315.10,336.40 318.08,336.40 321.06,336.40C324.04,336.40 326.84,336.47 330.00,336.40C333.16,336.33 336.25,336.32 340.00,336.00C343.75,335.68 348.75,335.71 352.50,334.50C356.25,333.29 359.58,331.58 362.50,328.75C365.42,325.92 367.92,321.88 370.00,317.50C372.08,313.12 373.33,308.75 375.00,302.50C376.67,296.25 378.33,288.33 380.00,280.00C381.67,271.67 383.33,260.62 385.00,252.50C386.67,244.38 388.54,236.25 390.00,231.25C391.46,226.25 392.79,224.17 393.75,222.50C394.71,220.83 394.92,221.04 395.75,221.25C396.58,221.46 397.62,220.62 398.75,223.75C399.88,226.88 400.99,232.71 402.50,240.00C404.01,247.29 406.03,258.33 407.80,267.50C409.57,276.67 411.33,287.08 413.10,295.00C414.87,302.92 416.65,309.58 418.40,315.00C420.15,320.42 421.87,324.40 423.60,327.50C425.33,330.60 426.73,332.20 428.80,333.60C430.87,335.00 433.13,335.43 436.00,335.90C438.87,336.37 442.86,336.32 446.00,336.40C449.14,336.48 451.89,336.40 454.84,336.40C457.79,336.40 460.74,336.40 463.68,336.40C466.63,336.40 469.58,336.40 472.53,336.40C475.47,336.40 478.42,336.40 481.37,336.40C484.32,336.40 487.26,336.40 490.21,336.40C493.16,336.40 496.11,336.40 499.05,336.40C502.00,336.40 504.95,336.40 507.89,336.40C510.84,336.40 513.79,336.40 516.74,336.40C519.68,336.40 522.63,336.40 525.58,336.40C528.53,336.40 531.47,336.40 534.42,336.40C537.37,336.40 540.32,336.40 543.26,336.40C546.21,336.40 549.16,336.40 552.11,336.40C555.05,336.40 558.00,336.40 560.95,336.40C563.89,336.40 566.84,336.40 569.79,336.40C572.74,336.40 575.68,336.40 578.63,336.40C581.58,336.40 584.53,336.40 587.47,336.40C590.42,336.40 593.37,336.40 596.32,336.40C599.26,336.40 602.21,336.40 605.16,336.40C608.11,336.40 612.53,336.40 614.00,336.40 L614.00,336.40 L178.00,336.40 Z" fill="rgb(0,192,178)" fill-opacity="0.75" stroke="none"/>
<path d="M178.00,336.40C179.49,336.40 183.96,336.40 186.94,336.40C189.92,336.40 192.90,336.40 195.88,336.40C198.86,336.40 201.84,336.40 204.82,336.40C207.80,336.40 210.78,336.40 213.76,336.40C216.75,336.40 219.73,336.40 222.71,336.40C225.69,336.40 228.67,336.40 231.65,336.40C234.63,336.40 237.61,336.40 240.59,336.40C243.57,336.40 246.55,336.40 249.53,336.40C252.51,336.40 255.49,336.40 258.47,336.40C261.45,336.40 264.43,336.40 267.41,336.40C270.39,336.40 273.37,336.40 276.35,336.40C279.33,336.40 282.31,336.40 285.29,336.40C288.27,336.40 291.25,336.40 294.24,336.40C297.22,336.40 300.20,336.40 303.18,336.40C306.16,336.40 309.14,336.40 312.12,336.40C315.10,336.40 318.08,336.40 321.06,336.40C324.04,336.40 326.84,336.47 330.00,336.40C333.16,336.33 336.25,336.32 340.00,336.00C343.75,335.68 348.75,335.71 352.50,334.50C356.25,333.29 359.58,331.58 362.50,328.75C365.42,325.92 367.92,321.88 370.00,317.50C372.08,313.12 373.33,308.75 375.00,302.50C376.67,296.25 378.33,288.33 380.00,280.00C381.67,271.67 383.33,260.62 385.00,252.50C386.67,244.38 388.54,236.25 390.00,231.25C391.46,226.25 392.79,224.17 393.75,222.50C394.71,220.83 394.92,221.04 395.75,221.25C396.58,221.46 397.62,220.62 398.75,223.75C399.88,226.88 400.99,232.71 402.50,240.00C404.01,247.29 406.03,258.33 407.80,267.50C409.57,276.67 411.33,287.08 413.10,295.00C414.87,302.92 416.65,309.58 418.40,315.00C420.15,320.42 421.87,324.40 423.60,327.50C425.33,330.60 426.73,332.20 428.80,333.60C430.87,335.00 433.13,335.43 436.00,335.90C438.87,336.37 442.86,336.32 446.00,336.40C449.14,336.48 451.89,336.40 454.84,336.40C457.79,336.40 460.74,336.40 463.68,336.40C466.63,336.40 469.58,336.40 472.53,336.40C475.47,336.40 478.42,336.40 481.37,336.40C484.32,336.40 487.26,336.40 490.21,336.40C493.16,336.40 496.11,336.40 499.05,336.40C502.00,336.40 504.95,336.40 507.89,336.40C510.84,336.40 513.79,336.40 516.74,336.40C519.68,336.40 522.63,336.40 525.58,336.40C528.53,336.40 531.47,336.40 534.42,336.40C537.37,336.40 540.32,336.40 543.26,336.40C546.21,336.40 549.16,336.40 552.11,336.40C555.05,336.40 558.00,336.40 560.95,336.40C563.89,336.40 566.84,336.40 569.79,336.40C572.74,336.40 575.68,336.40 578.63,336.40C581.58,336.40 584.53,336.40 587.47,336.40C590.42,336.40 593.37,336.40 596.32,336.40C599.26,336.40 602.21,336.40 605.16,336.40C608.11,336.40 612.53,336.40 614.00,336.40" fill="none" stroke="#202020" stroke-width="1.65" stroke-linejoin="round"/></g>
<g><path d="M178.00,365.10C180.00,365.05 186.83,364.93 190.00,364.80C193.17,364.67 194.77,364.52 197.00,364.30C199.23,364.08 201.03,363.98 203.40,363.50C205.78,363.02 208.65,362.53 211.25,361.40C213.85,360.27 216.39,358.39 219.00,356.70C221.61,355.01 224.28,352.93 226.90,351.25C229.52,349.57 232.10,347.91 234.70,346.60C237.30,345.29 240.16,344.12 242.50,343.40C244.84,342.68 246.67,342.37 248.75,342.30C250.83,342.23 252.66,342.42 255.00,343.00C257.34,343.58 260.20,345.08 262.80,345.80C265.40,346.52 268.15,347.17 270.60,347.30C273.05,347.43 275.10,347.28 277.50,346.60C279.90,345.93 282.50,344.77 285.00,343.25C287.50,341.73 290.00,339.29 292.50,337.50C295.00,335.71 297.50,333.67 300.00,332.50C302.50,331.33 305.00,330.71 307.50,330.50C310.00,330.29 312.50,330.71 315.00,331.25C317.50,331.79 320.42,332.62 322.50,333.75C324.58,334.88 325.42,335.92 327.50,338.00C329.58,340.08 332.50,344.38 335.00,346.25C337.50,348.12 340.00,348.83 342.50,349.25C345.00,349.67 347.50,348.92 350.00,348.75C352.50,348.58 355.00,347.96 357.50,348.25C360.00,348.54 362.50,349.29 365.00,350.50C367.50,351.71 370.00,353.92 372.50,355.50C375.00,357.08 377.50,358.75 380.00,360.00C382.50,361.25 385.00,362.29 387.50,363.00C390.00,363.71 392.08,364.04 395.00,364.25C397.92,364.46 401.67,364.54 405.00,364.25C408.33,363.96 411.67,363.17 415.00,362.50C418.33,361.83 422.08,360.71 425.00,360.25C427.92,359.79 430.00,359.67 432.50,359.75C435.00,359.83 437.08,360.12 440.00,360.75C442.92,361.38 446.67,362.83 450.00,363.50C453.33,364.17 456.67,364.47 460.00,364.75C463.33,365.03 466.96,365.12 470.00,365.20C473.04,365.27 475.48,365.20 478.21,365.20C480.95,365.20 483.69,365.20 486.43,365.20C489.17,365.20 491.90,365.20 494.64,365.20C497.38,365.20 500.12,365.20 502.86,365.20C505.60,365.20 508.33,365.20 511.07,365.20C513.81,365.20 516.55,365.20 519.29,365.20C522.02,365.20 524.46,365.36 527.50,365.20C530.54,365.04 534.17,364.66 537.50,364.25C540.83,363.84 544.17,363.21 547.50,362.75C550.83,362.29 554.17,361.79 557.50,361.50C560.83,361.21 564.17,360.96 567.50,361.00C570.83,361.04 574.17,361.33 577.50,361.75C580.83,362.17 584.17,363.00 587.50,363.50C590.83,364.00 594.46,364.50 597.50,364.75C600.54,365.00 603.00,364.90 605.75,364.98C608.50,365.05 612.62,365.16 614.00,365.20 L614.00,365.20 L178.00,365.20 Z" fill="rgb(0,192,135)" fill-opacity="0.75" stroke="none"/>
<path d="M178.00,365.10C180.00,365.05 186.83,364.93 190.00,364.80C193.17,364.67 194.77,364.52 197.00,364.30C199.23,364.08 201.03,363.98 203.40,363.50C205.78,363.02 208.65,362.53 211.25,361.40C213.85,360.27 216.39,358.39 219.00,356.70C221.61,355.01 224.28,352.93 226.90,351.25C229.52,349.57 232.10,347.91 234.70,346.60C237.30,345.29 240.16,344.12 242.50,343.40C244.84,342.68 246.67,342.37 248.75,342.30C250.83,342.23 252.66,342.42 255.00,343.00C257.34,343.58 260.20,345.08 262.80,345.80C265.40,346.52 268.15,347.17 270.60,347.30C273.05,347.43 275.10,347.28 277.50,346.60C279.90,345.93 282.50,344.77 285.00,343.25C287.50,341.73 290.00,339.29 292.50,337.50C295.00,335.71 297.50,333.67 300.00,332.50C302.50,331.33 305.00,330.71 307.50,330.50C310.00,330.29 312.50,330.71 315.00,331.25C317.50,331.79 320.42,332.62 322.50,333.75C324.58,334.88 325.42,335.92 327.50,338.00C329.58,340.08 332.50,344.38 335.00,346.25C337.50,348.12 340.00,348.83 342.50,349.25C345.00,349.67 347.50,348.92 350.00,348.75C352.50,348.58 355.00,347.96 357.50,348.25C360.00,348.54 362.50,349.29 365.00,350.50C367.50,351.71 370.00,353.92 372.50,355.50C375.00,357.08 377.50,358.75 380.00,360.00C382.50,361.25 385.00,362.29 387.50,363.00C390.00,363.71 392.08,364.04 395.00,364.25C397.92,364.46 401.67,364.54 405.00,364.25C408.33,363.96 411.67,363.17 415.00,362.50C418.33,361.83 422.08,360.71 425.00,360.25C427.92,359.79 430.00,359.67 432.50,359.75C435.00,359.83 437.08,360.12 440.00,360.75C442.92,361.38 446.67,362.83 450.00,363.50C453.33,364.17 456.67,364.47 460.00,364.75C463.33,365.03 466.96,365.12 470.00,365.20C473.04,365.27 475.48,365.20 478.21,365.20C480.95,365.20 483.69,365.20 486.43,365.20C489.17,365.20 491.90,365.20 494.64,365.20C497.38,365.20 500.12,365.20 502.86,365.20C505.60,365.20 508.33,365.20 511.07,365.20C513.81,365.20 516.55,365.20 519.29,365.20C522.02,365.20 524.46,365.36 527.50,365.20C530.54,365.04 534.17,364.66 537.50,364.25C540.83,363.84 544.17,363.21 547.50,362.75C550.83,362.29 554.17,361.79 557.50,361.50C560.83,361.21 564.17,360.96 567.50,361.00C570.83,361.04 574.17,361.33 577.50,361.75C580.83,362.17 584.17,363.00 587.50,363.50C590.83,364.00 594.46,364.50 597.50,364.75C600.54,365.00 603.00,364.90 605.75,364.98C608.50,365.05 612.62,365.16 614.00,365.20" fill="none" stroke="#202020" stroke-width="1.65" stroke-linejoin="round"/></g>
<g><path d="M178.00,393.50C179.90,393.37 186.47,393.03 189.40,392.70C192.33,392.37 193.27,392.52 195.60,391.50C197.93,390.48 200.79,388.97 203.40,386.60C206.01,384.23 208.65,380.58 211.25,377.30C213.85,374.02 216.39,369.63 219.00,366.90C221.61,364.17 224.28,362.33 226.90,360.90C229.52,359.47 232.10,358.87 234.70,358.30C237.30,357.73 240.16,357.50 242.50,357.50C244.84,357.50 246.67,357.73 248.75,358.30C250.83,358.87 252.92,359.73 255.00,360.90C257.08,362.07 259.17,363.92 261.25,365.30C263.33,366.68 265.42,368.28 267.50,369.20C269.58,370.12 271.67,370.62 273.75,370.80C275.83,370.98 277.71,370.31 280.00,370.30C282.29,370.29 285.00,370.18 287.50,370.75C290.00,371.32 292.50,372.71 295.00,373.75C297.50,374.79 300.00,376.25 302.50,377.00C305.00,377.75 307.08,378.05 310.00,378.25C312.92,378.45 317.08,378.20 320.00,378.20C322.92,378.20 325.00,377.87 327.50,378.25C330.00,378.63 332.08,379.46 335.00,380.50C337.92,381.54 341.67,383.25 345.00,384.50C348.33,385.75 352.08,387.17 355.00,388.00C357.92,388.83 360.00,389.17 362.50,389.50C365.00,389.83 367.50,390.25 370.00,390.00C372.50,389.75 375.00,388.83 377.50,388.00C380.00,387.17 382.50,385.75 385.00,385.00C387.50,384.25 390.00,383.50 392.50,383.50C395.00,383.50 397.50,384.04 400.00,385.00C402.50,385.96 405.00,388.00 407.50,389.25C410.00,390.50 412.50,391.75 415.00,392.50C417.50,393.25 419.67,393.50 422.50,393.75C425.33,394.00 428.97,393.96 432.00,394.00C435.03,394.04 437.78,394.00 440.67,394.00C443.56,394.00 446.44,394.00 449.33,394.00C452.22,394.00 455.11,394.00 458.00,394.00C460.89,394.00 463.78,394.00 466.67,394.00C469.56,394.00 472.44,394.00 475.33,394.00C478.22,394.00 481.11,394.00 484.00,394.00C486.89,394.00 489.78,394.00 492.67,394.00C495.56,394.00 498.44,394.00 501.33,394.00C504.22,394.00 507.11,394.00 510.00,394.00C512.89,394.00 515.78,394.00 518.67,394.00C521.56,394.00 524.44,394.00 527.33,394.00C530.22,394.00 533.11,394.00 536.00,394.00C538.89,394.00 541.78,394.00 544.67,394.00C547.56,394.00 550.44,394.00 553.33,394.00C556.22,394.00 559.11,394.00 562.00,394.00C564.89,394.00 567.78,394.00 570.67,394.00C573.56,394.00 576.44,394.00 579.33,394.00C582.22,394.00 585.11,394.00 588.00,394.00C590.89,394.00 593.78,394.00 596.67,394.00C599.56,394.00 602.44,394.00 605.33,394.00C608.22,394.00 612.56,394.00 614.00,394.00 L614.00,394.00 L178.00,394.00 Z" fill="rgb(0,188,81)" fill-opacity="0.75" stroke="none"/>
<path d="M178.00,393.50C179.90,393.37 186.47,393.03 189.40,392.70C192.33,392.37 193.27,392.52 195.60,391.50C197.93,390.48 200.79,388.97 203.40,386.60C206.01,384.23 208.65,380.58 211.25,377.30C213.85,374.02 216.39,369.63 219.00,366.90C221.61,364.17 224.28,362.33 226.90,360.90C229.52,359.47 232.10,358.87 234.70,358.30C237.30,357.73 240.16,357.50 242.50,357.50C244.84,357.50 246.67,357.73 248.75,358.30C250.83,358.87 252.92,359.73 255.00,360.90C257.08,362.07 259.17,363.92 261.25,365.30C263.33,366.68 265.42,368.28 267.50,369.20C269.58,370.12 271.67,370.62 273.75,370.80C275.83,370.98 277.71,370.31 280.00,370.30C282.29,370.29 285.00,370.18 287.50,370.75C290.00,371.32 292.50,372.71 295.00,373.75C297.50,374.79 300.00,376.25 302.50,377.00C305.00,377.75 307.08,378.05 310.00,378.25C312.92,378.45 317.08,378.20 320.00,378.20C322.92,378.20 325.00,377.87 327.50,378.25C330.00,378.63 332.08,379.46 335.00,380.50C337.92,381.54 341.67,383.25 345.00,384.50C348.33,385.75 352.08,387.17 355.00,388.00C357.92,388.83 360.00,389.17 362.50,389.50C365.00,389.83 367.50,390.25 370.00,390.00C372.50,389.75 375.00,388.83 377.50,388.00C380.00,387.17 382.50,385.75 385.00,385.00C387.50,384.25 390.00,383.50 392.50,383.50C395.00,383.50 397.50,384.04 400.00,385.00C402.50,385.96 405.00,388.00 407.50,389.25C410.00,390.50 412.50,391.75 415.00,392.50C417.50,393.25 419.67,393.50 422.50,393.75C425.33,394.00 428.97,393.96 432.00,394.00C435.03,394.04 437.78,394.00 440.67,394.00C443.56,394.00 446.44,394.00 449.33,394.00C452.22,394.00 455.11,394.00 458.00,394.00C460.89,394.00 463.78,394.00 466.67,394.00C469.56,394.00 472.44,394.00 475.33,394.00C478.22,394.00 481.11,394.00 484.00,394.00C486.89,394.00 489.78,394.00 492.67,394.00C495.56,394.00 498.44,394.00 501.33,394.00C504.22,394.00 507.11,394.00 510.00,394.00C512.89,394.00 515.78,394.00 518.67,394.00C521.56,394.00 524.44,394.00 527.33,394.00C530.22,394.00 533.11,394.00 536.00,394.00C538.89,394.00 541.78,394.00 544.67,394.00C547.56,394.00 550.44,394.00 553.33,394.00C556.22,394.00 559.11,394.00 562.00,394.00C564.89,394.00 567.78,394.00 570.67,394.00C573.56,394.00 576.44,394.00 579.33,394.00C582.22,394.00 585.11,394.00 588.00,394.00C590.89,394.00 593.78,394.00 596.67,394.00C599.56,394.00 602.44,394.00 605.33,394.00C608.22,394.00 612.56,394.00 614.00,394.00" fill="none" stroke="#202020" stroke-width="1.65" stroke-linejoin="round"/></g>
<g><path d="M178.00,422.75C180.33,422.73 187.83,422.76 192.00,422.60C196.17,422.44 199.79,422.23 203.00,421.80C206.21,421.37 208.58,421.08 211.25,420.00C213.92,418.92 216.39,417.13 219.00,415.30C221.61,413.47 224.28,411.60 226.90,409.00C229.52,406.40 232.10,402.55 234.70,399.70C237.30,396.85 240.16,393.78 242.50,391.90C244.84,390.02 246.93,389.05 248.75,388.40C250.57,387.75 251.58,387.82 253.40,388.00C255.22,388.18 257.35,388.72 259.70,389.50C262.05,390.28 265.16,391.83 267.50,392.70C269.84,393.57 271.67,394.45 273.75,394.70C275.83,394.95 277.29,394.77 280.00,394.20C282.71,393.62 286.67,391.95 290.00,391.25C293.33,390.55 296.67,390.00 300.00,390.00C303.33,390.00 306.67,390.45 310.00,391.25C313.33,392.05 317.08,393.88 320.00,394.80C322.92,395.72 324.90,396.33 327.50,396.75C330.10,397.17 333.52,396.84 335.60,397.30C337.68,397.76 338.43,398.58 340.00,399.50C341.57,400.42 343.38,401.55 345.00,402.80C346.62,404.05 348.13,405.57 349.70,407.00C351.27,408.43 352.85,410.03 354.40,411.40C355.95,412.77 357.44,414.03 359.00,415.20C360.56,416.37 361.92,417.43 363.75,418.40C365.58,419.37 367.79,420.33 370.00,421.00C372.21,421.67 374.33,422.10 377.00,422.40C379.67,422.70 383.04,422.73 386.00,422.80C388.96,422.87 391.85,422.80 394.77,422.80C397.69,422.80 400.62,422.80 403.54,422.80C406.46,422.80 409.38,422.80 412.31,422.80C415.23,422.80 418.15,422.80 421.08,422.80C424.00,422.80 426.92,422.80 429.85,422.80C432.77,422.80 435.69,422.80 438.62,422.80C441.54,422.80 444.46,422.80 447.38,422.80C450.31,422.80 453.23,422.80 456.15,422.80C459.08,422.80 462.00,422.80 464.92,422.80C467.85,422.80 470.77,422.80 473.69,422.80C476.62,422.80 479.54,422.80 482.46,422.80C485.38,422.80 488.31,422.80 491.23,422.80C494.15,422.80 497.08,422.80 500.00,422.80C502.92,422.80 505.85,422.80 508.77,422.80C511.69,422.80 514.62,422.80 517.54,422.80C520.46,422.80 523.38,422.80 526.31,422.80C529.23,422.80 532.15,422.80 535.08,422.80C538.00,422.80 540.92,422.80 543.85,422.80C546.77,422.80 549.69,422.80 552.62,422.80C555.54,422.80 558.46,422.80 561.38,422.80C564.31,422.80 567.23,422.80 570.15,422.80C573.08,422.80 576.00,422.80 578.92,422.80C581.85,422.80 584.77,422.80 587.69,422.80C590.62,422.80 593.54,422.80 596.46,422.80C599.38,422.80 602.31,422.80 605.23,422.80C608.15,422.80 612.54,422.80 614.00,422.80 L614.00,422.80 L178.00,422.80 Z" fill="rgb(69,181,0)" fill-opacity="0.75" stroke="none"/>
<path d="M178.00,422.75C180.33,422.73 187.83,422.76 192.00,422.60C196.17,422.44 199.79,422.23 203.00,421.80C206.21,421.37 208.58,421.08 211.25,420.00C213.92,418.92 216.39,417.13 219.00,415.30C221.61,413.47 224.28,411.60 226.90,409.00C229.52,406.40 232.10,402.55 234.70,399.70C237.30,396.85 240.16,393.78 242.50,391.90C244.84,390.02 246.93,389.05 248.75,388.40C250.57,387.75 251.58,387.82 253.40,388.00C255.22,388.18 257.35,388.72 259.70,389.50C262.05,390.28 265.16,391.83 267.50,392.70C269.84,393.57 271.67,394.45 273.75,394.70C275.83,394.95 277.29,394.77 280.00,394.20C282.71,393.62 286.67,391.95 290.00,391.25C293.33,390.55 296.67,390.00 300.00,390.00C303.33,390.00 306.67,390.45 310.00,391.25C313.33,392.05 317.08,393.88 320.00,394.80C322.92,395.72 324.90,396.33 327.50,396.75C330.10,397.17 333.52,396.84 335.60,397.30C337.68,397.76 338.43,398.58 340.00,399.50C341.57,400.42 343.38,401.55 345.00,402.80C346.62,404.05 348.13,405.57 349.70,407.00C351.27,408.43 352.85,410.03 354.40,411.40C355.95,412.77 357.44,414.03 359.00,415.20C360.56,416.37 361.92,417.43 363.75,418.40C365.58,419.37 367.79,420.33 370.00,421.00C372.21,421.67 374.33,422.10 377.00,422.40C379.67,422.70 383.04,422.73 386.00,422.80C388.96,422.87 391.85,422.80 394.77,422.80C397.69,422.80 400.62,422.80 403.54,422.80C406.46,422.80 409.38,422.80 412.31,422.80C415.23,422.80 418.15,422.80 421.08,422.80C424.00,422.80 426.92,422.80 429.85,422.80C432.77,422.80 435.69,422.80 438.62,422.80C441.54,422.80 444.46,422.80 447.38,422.80C450.31,422.80 453.23,422.80 456.15,422.80C459.08,422.80 462.00,422.80 464.92,422.80C467.85,422.80 470.77,422.80 473.69,422.80C476.62,422.80 479.54,422.80 482.46,422.80C485.38,422.80 488.31,422.80 491.23,422.80C494.15,422.80 497.08,422.80 500.00,422.80C502.92,422.80 505.85,422.80 508.77,422.80C511.69,422.80 514.62,422.80 517.54,422.80C520.46,422.80 523.38,422.80 526.31,422.80C529.23,422.80 532.15,422.80 535.08,422.80C538.00,422.80 540.92,422.80 543.85,422.80C546.77,422.80 549.69,422.80 552.62,422.80C555.54,422.80 558.46,422.80 561.38,422.80C564.31,422.80 567.23,422.80 570.15,422.80C573.08,422.80 576.00,422.80 578.92,422.80C581.85,422.80 584.77,422.80 587.69,422.80C590.62,422.80 593.54,422.80 596.46,422.80C599.38,422.80 602.31,422.80 605.23,422.80C608.15,422.80 612.54,422.80 614.00,422.80" fill="none" stroke="#202020" stroke-width="1.65" stroke-linejoin="round"/></g>
<g><path d="M178.00,451.60C179.50,451.60 184.00,451.60 187.00,451.60C190.00,451.60 193.00,451.60 196.00,451.60C199.00,451.60 202.25,451.67 205.00,451.60C207.75,451.53 210.00,451.33 212.50,451.20C215.00,451.07 217.50,451.08 220.00,450.80C222.50,450.52 225.00,450.26 227.50,449.50C230.00,448.74 232.50,447.83 235.00,446.25C237.50,444.67 240.00,441.38 242.50,440.00C245.00,438.62 247.08,438.50 250.00,438.00C252.92,437.50 257.08,437.45 260.00,437.00C262.92,436.55 265.25,436.05 267.50,435.30C269.75,434.55 271.25,433.98 273.50,432.50C275.75,431.02 278.50,428.45 281.00,426.40C283.50,424.35 286.00,422.05 288.50,420.20C291.00,418.35 293.58,416.52 296.00,415.30C298.42,414.08 300.87,413.42 303.00,412.90C305.13,412.38 306.80,411.98 308.80,412.20C310.80,412.42 313.13,413.32 315.00,414.20C316.87,415.08 318.33,416.30 320.00,417.50C321.67,418.70 323.12,420.02 325.00,421.40C326.88,422.78 329.17,424.60 331.25,425.80C333.33,427.00 335.21,428.00 337.50,428.60C339.79,429.20 342.50,429.63 345.00,429.40C347.50,429.17 350.21,427.68 352.50,427.20C354.79,426.72 356.67,426.24 358.75,426.50C360.83,426.76 362.71,427.43 365.00,428.75C367.29,430.07 370.00,432.49 372.50,434.40C375.00,436.31 377.50,438.77 380.00,440.20C382.50,441.63 385.00,442.20 387.50,443.00C390.00,443.80 392.50,444.25 395.00,445.00C397.50,445.75 400.00,446.67 402.50,447.50C405.00,448.33 407.50,449.38 410.00,450.00C412.50,450.62 414.67,450.98 417.50,451.25C420.33,451.52 423.96,451.54 427.00,451.60C430.04,451.66 432.81,451.60 435.71,451.60C438.62,451.60 441.52,451.59 444.42,451.59C447.33,451.59 450.23,451.59 453.13,451.59C456.04,451.59 458.94,451.59 461.85,451.59C464.75,451.59 467.65,451.59 470.56,451.58C473.46,451.58 476.37,451.58 479.27,451.58C482.17,451.58 485.08,451.58 487.98,451.58C490.88,451.58 493.79,451.58 496.69,451.58C499.60,451.57 502.50,451.57 505.40,451.57C508.31,451.57 511.21,451.57 514.12,451.57C517.02,451.57 519.92,451.57 522.83,451.57C525.73,451.57 528.63,451.56 531.54,451.56C534.44,451.56 538.13,451.57 540.25,451.56C542.37,451.55 542.92,451.53 544.25,451.50C545.58,451.47 546.92,451.44 548.25,451.39C549.58,451.34 550.92,451.27 552.25,451.19C553.58,451.11 554.92,451.01 556.25,450.89C557.58,450.77 558.92,450.63 560.25,450.48C561.58,450.33 562.92,450.16 564.25,450.01C565.58,449.86 566.92,449.69 568.25,449.56C569.58,449.43 570.92,449.30 572.25,449.22C573.58,449.14 574.92,449.10 576.25,449.10C577.58,449.10 578.92,449.14 580.25,449.22C581.58,449.30 582.92,449.43 584.25,449.56C585.58,449.69 586.92,449.86 588.25,450.01C589.58,450.16 590.92,450.33 592.25,450.48C593.58,450.63 594.92,450.77 596.25,450.89C597.58,451.01 598.92,451.11 600.25,451.19C601.58,451.27 602.92,451.34 604.25,451.39C605.58,451.44 606.92,451.47 608.25,451.50C609.58,451.53 611.29,451.54 612.25,451.56C613.21,451.58 613.71,451.59 614.00,451.60 L614.00,451.60 L178.00,451.60 Z" fill="rgb(137,172,0)" fill-opacity="0.75" stroke="none"/>
<path d="M178.00,451.60C179.50,451.60 184.00,451.60 187.00,451.60C190.00,451.60 193.00,451.60 196.00,451.60C199.00,451.60 202.25,451.67 205.00,451.60C207.75,451.53 210.00,451.33 212.50,451.20C215.00,451.07 217.50,451.08 220.00,450.80C222.50,450.52 225.00,450.26 227.50,449.50C230.00,448.74 232.50,447.83 235.00,446.25C237.50,444.67 240.00,441.38 242.50,440.00C245.00,438.62 247.08,438.50 250.00,438.00C252.92,437.50 257.08,437.45 260.00,437.00C262.92,436.55 265.25,436.05 267.50,435.30C269.75,434.55 271.25,433.98 273.50,432.50C275.75,431.02 278.50,428.45 281.00,426.40C283.50,424.35 286.00,422.05 288.50,420.20C291.00,418.35 293.58,416.52 296.00,415.30C298.42,414.08 300.87,413.42 303.00,412.90C305.13,412.38 306.80,411.98 308.80,412.20C310.80,412.42 313.13,413.32 315.00,414.20C316.87,415.08 318.33,416.30 320.00,417.50C321.67,418.70 323.12,420.02 325.00,421.40C326.88,422.78 329.17,424.60 331.25,425.80C333.33,427.00 335.21,428.00 337.50,428.60C339.79,429.20 342.50,429.63 345.00,429.40C347.50,429.17 350.21,427.68 352.50,427.20C354.79,426.72 356.67,426.24 358.75,426.50C360.83,426.76 362.71,427.43 365.00,428.75C367.29,430.07 370.00,432.49 372.50,434.40C375.00,436.31 377.50,438.77 380.00,440.20C382.50,441.63 385.00,442.20 387.50,443.00C390.00,443.80 392.50,444.25 395.00,445.00C397.50,445.75 400.00,446.67 402.50,447.50C405.00,448.33 407.50,449.38 410.00,450.00C412.50,450.62 414.67,450.98 417.50,451.25C420.33,451.52 423.96,451.54 427.00,451.60C430.04,451.66 432.81,451.60 435.71,451.60C438.62,451.60 441.52,451.59 444.42,451.59C447.33,451.59 450.23,451.59 453.13,451.59C456.04,451.59 458.94,451.59 461.85,451.59C464.75,451.59 467.65,451.59 470.56,451.58C473.46,451.58 476.37,451.58 479.27,451.58C482.17,451.58 485.08,451.58 487.98,451.58C490.88,451.58 493.79,451.58 496.69,451.58C499.60,451.57 502.50,451.57 505.40,451.57C508.31,451.57 511.21,451.57 514.12,451.57C517.02,451.57 519.92,451.57 522.83,451.57C525.73,451.57 528.63,451.56 531.54,451.56C534.44,451.56 538.13,451.57 540.25,451.56C542.37,451.55 542.92,451.53 544.25,451.50C545.58,451.47 546.92,451.44 548.25,451.39C549.58,451.34 550.92,451.27 552.25,451.19C553.58,451.11 554.92,451.01 556.25,450.89C557.58,450.77 558.92,450.63 560.25,450.48C561.58,450.33 562.92,450.16 564.25,450.01C565.58,449.86 566.92,449.69 568.25,449.56C569.58,449.43 570.92,449.30 572.25,449.22C573.58,449.14 574.92,449.10 576.25,449.10C577.58,449.10 578.92,449.14 580.25,449.22C581.58,449.30 582.92,449.43 584.25,449.56C585.58,449.69 586.92,449.86 588.25,450.01C589.58,450.16 590.92,450.33 592.25,450.48C593.58,450.63 594.92,450.77 596.25,450.89C597.58,451.01 598.92,451.11 600.25,451.19C601.58,451.27 602.92,451.34 604.25,451.39C605.58,451.44 606.92,451.47 608.25,451.50C609.58,451.53 611.29,451.54 612.25,451.56C613.21,451.58 613.71,451.59 614.00,451.60" fill="none" stroke="#202020" stroke-width="1.65" stroke-linejoin="round"/></g>
<g><path d="M178.00,480.40C179.17,480.40 182.17,480.47 185.00,480.40C187.83,480.33 191.67,480.48 195.00,480.00C198.33,479.52 202.08,478.75 205.00,477.50C207.92,476.25 210.00,475.00 212.50,472.50C215.00,470.00 217.50,465.62 220.00,462.50C222.50,459.38 225.00,456.67 227.50,453.75C230.00,450.83 232.50,447.38 235.00,445.00C237.50,442.62 239.58,440.75 242.50,439.50C245.42,438.25 249.17,438.12 252.50,437.50C255.83,436.88 259.17,436.58 262.50,435.75C265.83,434.92 269.58,433.33 272.50,432.50C275.42,431.67 277.92,430.75 280.00,430.75C282.08,430.75 283.33,431.38 285.00,432.50C286.67,433.62 287.92,434.79 290.00,437.50C292.08,440.21 295.00,445.00 297.50,448.75C300.00,452.50 302.50,456.88 305.00,460.00C307.50,463.12 310.00,465.37 312.50,467.50C315.00,469.63 317.50,471.25 320.00,472.80C322.50,474.35 325.00,475.73 327.50,476.80C330.00,477.88 332.08,478.65 335.00,479.25C337.92,479.85 341.85,480.21 345.00,480.40C348.15,480.59 350.92,480.40 353.88,480.40C356.83,480.40 359.79,480.40 362.75,480.40C365.71,480.40 368.67,480.40 371.62,480.39C374.58,480.39 377.54,480.39 380.50,480.39C383.46,480.39 386.42,480.39 389.38,480.39C392.33,480.39 395.29,480.39 398.25,480.39C401.21,480.39 404.17,480.39 407.12,480.39C410.08,480.39 413.04,480.39 416.00,480.39C418.96,480.38 421.92,480.38 424.88,480.38C427.83,480.38 430.79,480.38 433.75,480.38C436.71,480.38 439.67,480.38 442.62,480.38C445.58,480.38 448.54,480.38 451.50,480.38C454.46,480.38 457.42,480.38 460.38,480.38C463.33,480.38 466.29,480.38 469.25,480.37C472.21,480.37 475.17,480.37 478.12,480.37C481.08,480.37 484.04,480.37 487.00,480.37C489.96,480.37 492.92,480.37 495.88,480.37C498.83,480.37 501.79,480.37 504.75,480.37C507.71,480.37 510.67,480.37 513.62,480.37C516.58,480.36 519.54,480.36 522.50,480.36C525.46,480.36 528.42,480.36 531.38,480.36C534.33,480.36 538.10,480.37 540.25,480.36C542.40,480.35 542.92,480.33 544.25,480.30C545.58,480.27 546.92,480.24 548.25,480.19C549.58,480.14 550.92,480.07 552.25,479.99C553.58,479.91 554.92,479.81 556.25,479.69C557.58,479.57 558.92,479.43 560.25,479.28C561.58,479.13 562.92,478.96 564.25,478.81C565.58,478.66 566.92,478.49 568.25,478.36C569.58,478.23 570.92,478.10 572.25,478.02C573.58,477.94 574.92,477.90 576.25,477.90C577.58,477.90 578.92,477.94 580.25,478.02C581.58,478.10 582.92,478.23 584.25,478.36C585.58,478.49 586.92,478.66 588.25,478.81C589.58,478.96 590.92,479.13 592.25,479.28C593.58,479.43 594.92,479.57 596.25,479.69C597.58,479.81 598.92,479.91 600.25,479.99C601.58,480.07 602.92,480.14 604.25,480.19C605.58,480.24 606.92,480.27 608.25,480.30C609.58,480.33 611.29,480.34 612.25,480.36C613.21,480.38 613.71,480.39 614.00,480.40 L614.00,480.40 L178.00,480.40 Z" fill="rgb(178,161,0)" fill-opacity="0.75" stroke="none"/>
<path d="M178.00,480.40C179.17,480.40 182.17,480.47 185.00,480.40C187.83,480.33 191.67,480.48 195.00,480.00C198.33,479.52 202.08,478.75 205.00,477.50C207.92,476.25 210.00,475.00 212.50,472.50C215.00,470.00 217.50,465.62 220.00,462.50C222.50,459.38 225.00,456.67 227.50,453.75C230.00,450.83 232.50,447.38 235.00,445.00C237.50,442.62 239.58,440.75 242.50,439.50C245.42,438.25 249.17,438.12 252.50,437.50C255.83,436.88 259.17,436.58 262.50,435.75C265.83,434.92 269.58,433.33 272.50,432.50C275.42,431.67 277.92,430.75 280.00,430.75C282.08,430.75 283.33,431.38 285.00,432.50C286.67,433.62 287.92,434.79 290.00,437.50C292.08,440.21 295.00,445.00 297.50,448.75C300.00,452.50 302.50,456.88 305.00,460.00C307.50,463.12 310.00,465.37 312.50,467.50C315.00,469.63 317.50,471.25 320.00,472.80C322.50,474.35 325.00,475.73 327.50,476.80C330.00,477.88 332.08,478.65 335.00,479.25C337.92,479.85 341.85,480.21 345.00,480.40C348.15,480.59 350.92,480.40 353.88,480.40C356.83,480.40 359.79,480.40 362.75,480.40C365.71,480.40 368.67,480.40 371.62,480.39C374.58,480.39 377.54,480.39 380.50,480.39C383.46,480.39 386.42,480.39 389.38,480.39C392.33,480.39 395.29,480.39 398.25,480.39C401.21,480.39 404.17,480.39 407.12,480.39C410.08,480.39 413.04,480.39 416.00,480.39C418.96,480.38 421.92,480.38 424.88,480.38C427.83,480.38 430.79,480.38 433.75,480.38C436.71,480.38 439.67,480.38 442.62,480.38C445.58,480.38 448.54,480.38 451.50,480.38C454.46,480.38 457.42,480.38 460.38,480.38C463.33,480.38 466.29,480.38 469.25,480.37C472.21,480.37 475.17,480.37 478.12,480.37C481.08,480.37 484.04,480.37 487.00,480.37C489.96,480.37 492.92,480.37 495.88,480.37C498.83,480.37 501.79,480.37 504.75,480.37C507.71,480.37 510.67,480.37 513.62,480.37C516.58,480.36 519.54,480.36 522.50,480.36C525.46,480.36 528.42,480.36 531.38,480.36C534.33,480.36 538.10,480.37 540.25,480.36C542.40,480.35 542.92,480.33 544.25,480.30C545.58,480.27 546.92,480.24 548.25,480.19C549.58,480.14 550.92,480.07 552.25,479.99C553.58,479.91 554.92,479.81 556.25,479.69C557.58,479.57 558.92,479.43 560.25,479.28C561.58,479.13 562.92,478.96 564.25,478.81C565.58,478.66 566.92,478.49 568.25,478.36C569.58,478.23 570.92,478.10 572.25,478.02C573.58,477.94 574.92,477.90 576.25,477.90C577.58,477.90 578.92,477.94 580.25,478.02C581.58,478.10 582.92,478.23 584.25,478.36C585.58,478.49 586.92,478.66 588.25,478.81C589.58,478.96 590.92,479.13 592.25,479.28C593.58,479.43 594.92,479.57 596.25,479.69C597.58,479.81 598.92,479.91 600.25,479.99C601.58,480.07 602.92,480.14 604.25,480.19C605.58,480.24 606.92,480.27 608.25,480.30C609.58,480.33 611.29,480.34 612.25,480.36C613.21,480.38 613.71,480.39 614.00,480.40" fill="none" stroke="#202020" stroke-width="1.65" stroke-linejoin="round"/></g>
<g><path d="M178.00,509.20C179.00,509.13 182.25,509.07 184.00,508.80C185.75,508.53 187.08,508.23 188.50,507.60C189.92,506.97 191.32,505.95 192.50,505.00C193.68,504.05 194.43,503.47 195.60,501.90C196.77,500.33 198.38,497.92 199.50,495.60C200.62,493.28 201.15,491.85 202.30,488.00C203.45,484.15 204.88,478.42 206.40,472.50C207.92,466.58 209.77,458.75 211.40,452.50C213.03,446.25 214.63,440.21 216.20,435.00C217.77,429.79 219.50,424.55 220.80,421.25C222.10,417.95 223.07,416.43 224.00,415.20C224.93,413.97 225.40,413.72 226.40,413.90C227.40,414.07 228.57,413.77 230.00,416.25C231.43,418.73 233.33,423.75 235.00,428.75C236.67,433.75 238.38,440.62 240.00,446.25C241.62,451.88 243.12,457.50 244.70,462.50C246.28,467.50 247.88,472.29 249.50,476.25C251.12,480.21 252.72,483.33 254.40,486.25C256.08,489.17 257.42,491.25 259.60,493.75C261.78,496.25 264.93,499.29 267.50,501.25C270.07,503.21 272.08,504.38 275.00,505.50C277.92,506.62 282.08,507.48 285.00,508.00C287.92,508.52 290.00,508.40 292.50,508.60C295.00,508.80 297.27,509.10 300.00,509.20C302.73,509.30 305.91,509.20 308.86,509.20C311.81,509.20 314.77,509.20 317.72,509.20C320.67,509.20 323.63,509.20 326.58,509.20C329.53,509.19 332.49,509.19 335.44,509.19C338.39,509.19 341.35,509.19 344.30,509.19C347.25,509.19 350.21,509.19 353.16,509.19C356.11,509.19 359.07,509.19 362.02,509.19C364.97,509.19 367.93,509.19 370.88,509.19C373.83,509.19 376.79,509.19 379.74,509.19C382.69,509.19 385.65,509.18 388.60,509.18C391.55,509.18 394.51,509.18 397.46,509.18C400.41,509.18 403.37,509.18 406.32,509.18C409.27,509.18 412.23,509.18 415.18,509.18C418.13,509.18 421.09,509.18 424.04,509.18C426.99,509.18 429.95,509.18 432.90,509.18C435.85,509.18 438.81,509.17 441.76,509.17C444.71,509.17 447.67,509.17 450.62,509.17C453.57,509.17 456.53,509.17 459.48,509.17C462.43,509.17 465.39,509.17 468.34,509.17C471.29,509.17 474.25,509.17 477.20,509.17C480.15,509.17 483.11,509.17 486.06,509.17C489.01,509.17 491.97,509.17 494.92,509.16C497.87,509.16 500.83,509.16 503.78,509.16C506.73,509.16 509.69,509.16 512.64,509.16C515.59,509.16 519.36,509.17 521.50,509.16C523.64,509.15 524.17,509.13 525.50,509.10C526.83,509.07 528.17,509.04 529.50,508.99C530.83,508.94 532.17,508.87 533.50,508.79C534.83,508.71 536.17,508.61 537.50,508.49C538.83,508.37 540.17,508.23 541.50,508.08C542.83,507.93 544.17,507.76 545.50,507.61C546.83,507.46 548.17,507.29 549.50,507.16C550.83,507.03 552.17,506.90 553.50,506.82C554.83,506.74 556.17,506.70 557.50,506.70C558.83,506.70 560.17,506.74 561.50,506.82C562.83,506.90 564.17,507.03 565.50,507.16C566.83,507.29 568.17,507.46 569.50,507.61C570.83,507.76 572.17,507.93 573.50,508.08C574.83,508.23 576.17,508.37 577.50,508.49C578.83,508.61 580.17,508.71 581.50,508.79C582.83,508.87 584.17,508.94 585.50,508.99C586.83,509.04 588.17,509.07 589.50,509.10C590.83,509.13 591.69,509.15 593.50,509.16C595.31,509.17 598.06,509.17 600.33,509.17C602.61,509.18 604.89,509.18 607.17,509.19C609.44,509.19 612.86,509.20 614.00,509.20 L614.00,509.20 L178.00,509.20 Z" fill="rgb(208,148,0)" fill-opacity="0.75" stroke="none"/>
<path d="M178.00,509.20C179.00,509.13 182.25,509.07 184.00,508.80C185.75,508.53 187.08,508.23 188.50,507.60C189.92,506.97 191.32,505.95 192.50,505.00C193.68,504.05 194.43,503.47 195.60,501.90C196.77,500.33 198.38,497.92 199.50,495.60C200.62,493.28 201.15,491.85 202.30,488.00C203.45,484.15 204.88,478.42 206.40,472.50C207.92,466.58 209.77,458.75 211.40,452.50C213.03,446.25 214.63,440.21 216.20,435.00C217.77,429.79 219.50,424.55 220.80,421.25C222.10,417.95 223.07,416.43 224.00,415.20C224.93,413.97 225.40,413.72 226.40,413.90C227.40,414.07 228.57,413.77 230.00,416.25C231.43,418.73 233.33,423.75 235.00,428.75C236.67,433.75 238.38,440.62 240.00,446.25C241.62,451.88 243.12,457.50 244.70,462.50C246.28,467.50 247.88,472.29 249.50,476.25C251.12,480.21 252.72,483.33 254.40,486.25C256.08,489.17 257.42,491.25 259.60,493.75C261.78,496.25 264.93,499.29 267.50,501.25C270.07,503.21 272.08,504.38 275.00,505.50C277.92,506.62 282.08,507.48 285.00,508.00C287.92,508.52 290.00,508.40 292.50,508.60C295.00,508.80 297.27,509.10 300.00,509.20C302.73,509.30 305.91,509.20 308.86,509.20C311.81,509.20 314.77,509.20 317.72,509.20C320.67,509.20 323.63,509.20 326.58,509.20C329.53,509.19 332.49,509.19 335.44,509.19C338.39,509.19 341.35,509.19 344.30,509.19C347.25,509.19 350.21,509.19 353.16,509.19C356.11,509.19 359.07,509.19 362.02,509.19C364.97,509.19 367.93,509.19 370.88,509.19C373.83,509.19 376.79,509.19 379.74,509.19C382.69,509.19 385.65,509.18 388.60,509.18C391.55,509.18 394.51,509.18 397.46,509.18C400.41,509.18 403.37,509.18 406.32,509.18C409.27,509.18 412.23,509.18 415.18,509.18C418.13,509.18 421.09,509.18 424.04,509.18C426.99,509.18 429.95,509.18 432.90,509.18C435.85,509.18 438.81,509.17 441.76,509.17C444.71,509.17 447.67,509.17 450.62,509.17C453.57,509.17 456.53,509.17 459.48,509.17C462.43,509.17 465.39,509.17 468.34,509.17C471.29,509.17 474.25,509.17 477.20,509.17C480.15,509.17 483.11,509.17 486.06,509.17C489.01,509.17 491.97,509.17 494.92,509.16C497.87,509.16 500.83,509.16 503.78,509.16C506.73,509.16 509.69,509.16 512.64,509.16C515.59,509.16 519.36,509.17 521.50,509.16C523.64,509.15 524.17,509.13 525.50,509.10C526.83,509.07 528.17,509.04 529.50,508.99C530.83,508.94 532.17,508.87 533.50,508.79C534.83,508.71 536.17,508.61 537.50,508.49C538.83,508.37 540.17,508.23 541.50,508.08C542.83,507.93 544.17,507.76 545.50,507.61C546.83,507.46 548.17,507.29 549.50,507.16C550.83,507.03 552.17,506.90 553.50,506.82C554.83,506.74 556.17,506.70 557.50,506.70C558.83,506.70 560.17,506.74 561.50,506.82C562.83,506.90 564.17,507.03 565.50,507.16C566.83,507.29 568.17,507.46 569.50,507.61C570.83,507.76 572.17,507.93 573.50,508.08C574.83,508.23 576.17,508.37 577.50,508.49C578.83,508.61 580.17,508.71 581.50,508.79C582.83,508.87 584.17,508.94 585.50,508.99C586.83,509.04 588.17,509.07 589.50,509.10C590.83,509.13 591.69,509.15 593.50,509.16C595.31,509.17 598.06,509.17 600.33,509.17C602.61,509.18 604.89,509.18 607.17,509.19C609.44,509.19 612.86,509.20 614.00,509.20" fill="none" stroke="#202020" stroke-width="1.65" stroke-linejoin="round"/></g>
<g><path d="M178.00,538.00C180.00,537.83 186.33,537.82 190.00,537.00C193.67,536.18 197.17,534.78 200.00,533.10C202.83,531.42 205.18,529.25 207.00,526.90C208.82,524.55 209.63,521.61 210.90,519.00C212.17,516.39 213.50,513.85 214.60,511.25C215.70,508.65 216.65,506.01 217.50,503.40C218.35,500.79 218.98,498.20 219.70,495.60C220.42,493.00 221.15,490.40 221.80,487.80C222.45,485.20 222.90,482.43 223.60,480.00C224.30,477.57 224.85,475.82 226.00,473.20C227.15,470.58 229.03,466.38 230.50,464.30C231.97,462.22 233.43,460.95 234.80,460.70C236.18,460.45 237.13,460.83 238.75,462.80C240.37,464.77 242.41,468.38 244.50,472.50C246.59,476.62 248.88,482.71 251.30,487.50C253.72,492.29 256.38,497.23 259.00,501.25C261.62,505.27 265.08,509.31 267.00,511.60C268.92,513.89 269.33,513.88 270.50,515.00C271.67,516.12 272.78,517.27 274.00,518.30C275.22,519.33 276.52,520.22 277.80,521.20C279.08,522.18 280.40,523.27 281.70,524.20C283.00,525.13 284.30,526.03 285.60,526.80C286.90,527.57 288.20,528.23 289.50,528.80C290.80,529.37 291.44,529.67 293.40,530.20C295.36,530.73 298.65,531.53 301.25,532.00C303.85,532.47 306.39,532.72 309.00,533.00C311.61,533.28 314.28,533.45 316.90,533.70C319.52,533.95 322.10,534.18 324.70,534.50C327.30,534.82 329.90,535.20 332.50,535.60C335.10,536.00 337.72,536.55 340.30,536.90C342.88,537.25 345.22,537.52 348.00,537.70C350.78,537.88 354.06,537.95 357.00,538.00C359.94,538.05 362.75,538.00 365.62,538.00C368.49,538.00 371.36,538.00 374.24,538.00C377.11,537.99 379.98,537.99 382.85,537.99C385.73,537.99 388.60,537.99 391.47,537.99C394.34,537.99 397.22,537.99 400.09,537.99C402.96,537.99 405.83,537.99 408.71,537.99C411.58,537.99 414.45,537.98 417.32,537.98C420.20,537.98 423.07,537.98 425.94,537.98C428.81,537.98 431.69,537.98 434.56,537.98C437.43,537.98 440.30,537.98 443.18,537.98C446.05,537.98 448.92,537.97 451.79,537.97C454.67,537.97 457.54,537.97 460.41,537.97C463.28,537.97 466.16,537.97 469.03,537.97C471.90,537.97 474.77,537.97 477.65,537.97C480.52,537.97 483.39,537.97 486.26,537.96C489.14,537.96 492.01,537.96 494.88,537.96C497.75,537.96 501.40,537.97 503.50,537.96C505.60,537.95 506.17,537.93 507.50,537.90C508.83,537.87 510.17,537.84 511.50,537.79C512.83,537.74 514.17,537.67 515.50,537.59C516.83,537.51 518.17,537.41 519.50,537.29C520.83,537.17 522.17,537.03 523.50,536.88C524.83,536.73 526.17,536.56 527.50,536.41C528.83,536.26 530.17,536.09 531.50,535.96C532.83,535.83 534.17,535.70 535.50,535.62C536.83,535.54 538.17,535.50 539.50,535.50C540.83,535.50 542.17,535.54 543.50,535.62C544.83,535.70 546.17,535.83 547.50,535.96C548.83,536.09 550.17,536.26 551.50,536.41C552.83,536.56 554.17,536.73 555.50,536.88C556.83,537.03 558.17,537.17 559.50,537.29C560.83,537.41 562.17,537.51 563.50,537.59C564.83,537.67 566.17,537.74 567.50,537.79C568.83,537.84 570.17,537.87 571.50,537.90C572.83,537.93 573.55,537.95 575.50,537.96C577.45,537.97 580.63,537.97 583.20,537.97C585.77,537.97 588.33,537.97 590.90,537.98C593.47,537.98 596.03,537.98 598.60,537.98C601.17,537.99 603.73,537.99 606.30,537.99C608.87,537.99 612.72,538.00 614.00,538.00 L614.00,538.00 L178.00,538.00 Z" fill="rgb(231,133,30)" fill-opacity="0.75" stroke="none"/>
<path d="M178.00,538.00C180.00,537.83 186.33,537.82 190.00,537.00C193.67,536.18 197.17,534.78 200.00,533.10C202.83,531.42 205.18,529.25 207.00,526.90C208.82,524.55 209.63,521.61 210.90,519.00C212.17,516.39 213.50,513.85 214.60,511.25C215.70,508.65 216.65,506.01 217.50,503.40C218.35,500.79 218.98,498.20 219.70,495.60C220.42,493.00 221.15,490.40 221.80,487.80C222.45,485.20 222.90,482.43 223.60,480.00C224.30,477.57 224.85,475.82 226.00,473.20C227.15,470.58 229.03,466.38 230.50,464.30C231.97,462.22 233.43,460.95 234.80,460.70C236.18,460.45 237.13,460.83 238.75,462.80C240.37,464.77 242.41,468.38 244.50,472.50C246.59,476.62 248.88,482.71 251.30,487.50C253.72,492.29 256.38,497.23 259.00,501.25C261.62,505.27 265.08,509.31 267.00,511.60C268.92,513.89 269.33,513.88 270.50,515.00C271.67,516.12 272.78,517.27 274.00,518.30C275.22,519.33 276.52,520.22 277.80,521.20C279.08,522.18 280.40,523.27 281.70,524.20C283.00,525.13 284.30,526.03 285.60,526.80C286.90,527.57 288.20,528.23 289.50,528.80C290.80,529.37 291.44,529.67 293.40,530.20C295.36,530.73 298.65,531.53 301.25,532.00C303.85,532.47 306.39,532.72 309.00,533.00C311.61,533.28 314.28,533.45 316.90,533.70C319.52,533.95 322.10,534.18 324.70,534.50C327.30,534.82 329.90,535.20 332.50,535.60C335.10,536.00 337.72,536.55 340.30,536.90C342.88,537.25 345.22,537.52 348.00,537.70C350.78,537.88 354.06,537.95 357.00,538.00C359.94,538.05 362.75,538.00 365.62,538.00C368.49,538.00 371.36,538.00 374.24,538.00C377.11,537.99 379.98,537.99 382.85,537.99C385.73,537.99 388.60,537.99 391.47,537.99C394.34,537.99 397.22,537.99 400.09,537.99C402.96,537.99 405.83,537.99 408.71,537.99C411.58,537.99 414.45,537.98 417.32,537.98C420.20,537.98 423.07,537.98 425.94,537.98C428.81,537.98 431.69,537.98 434.56,537.98C437.43,537.98 440.30,537.98 443.18,537.98C446.05,537.98 448.92,537.97 451.79,537.97C454.67,537.97 457.54,537.97 460.41,537.97C463.28,537.97 466.16,537.97 469.03,537.97C471.90,537.97 474.77,537.97 477.65,537.97C480.52,537.97 483.39,537.97 486.26,537.96C489.14,537.96 492.01,537.96 494.88,537.96C497.75,537.96 501.40,537.97 503.50,537.96C505.60,537.95 506.17,537.93 507.50,537.90C508.83,537.87 510.17,537.84 511.50,537.79C512.83,537.74 514.17,537.67 515.50,537.59C516.83,537.51 518.17,537.41 519.50,537.29C520.83,537.17 522.17,537.03 523.50,536.88C524.83,536.73 526.17,536.56 527.50,536.41C528.83,536.26 530.17,536.09 531.50,535.96C532.83,535.83 534.17,535.70 535.50,535.62C536.83,535.54 538.17,535.50 539.50,535.50C540.83,535.50 542.17,535.54 543.50,535.62C544.83,535.70 546.17,535.83 547.50,535.96C548.83,536.09 550.17,536.26 551.50,536.41C552.83,536.56 554.17,536.73 555.50,536.88C556.83,537.03 558.17,537.17 559.50,537.29C560.83,537.41 562.17,537.51 563.50,537.59C564.83,537.67 566.17,537.74 567.50,537.79C568.83,537.84 570.17,537.87 571.50,537.90C572.83,537.93 573.55,537.95 575.50,537.96C577.45,537.97 580.63,537.97 583.20,537.97C585.77,537.97 588.33,537.97 590.90,537.98C593.47,537.98 596.03,537.98 598.60,537.98C601.17,537.99 603.73,537.99 606.30,537.99C608.87,537.99 612.72,538.00 614.00,538.00" fill="none" stroke="#202020" stroke-width="1.65" stroke-linejoin="round"/></g>
<g><path d="M178.00,566.75C180.33,566.73 188.50,566.69 192.00,566.60C195.50,566.51 196.83,566.45 199.00,566.20C201.17,565.95 202.96,565.92 205.00,565.10C207.04,564.28 209.42,562.82 211.25,561.30C213.08,559.78 214.57,557.83 216.00,556.00C217.43,554.17 218.57,552.30 219.80,550.30C221.03,548.30 222.22,546.08 223.40,544.00C224.58,541.92 225.80,539.75 226.90,537.80C228.00,535.85 228.97,534.12 230.00,532.30C231.03,530.48 232.07,528.70 233.10,526.90C234.13,525.10 235.15,523.20 236.20,521.50C237.25,519.80 238.35,518.07 239.40,516.70C240.45,515.33 241.47,514.25 242.50,513.30C243.53,512.35 244.60,511.63 245.60,511.00C246.60,510.37 247.55,509.83 248.50,509.50C249.45,509.17 250.30,509.02 251.30,509.00C252.30,508.98 253.37,509.02 254.50,509.40C255.63,509.77 256.97,510.48 258.10,511.25C259.23,512.02 260.20,512.96 261.30,514.00C262.40,515.04 263.58,516.17 264.70,517.50C265.82,518.83 266.92,520.43 268.00,522.00C269.08,523.57 270.15,525.30 271.20,526.90C272.25,528.50 273.27,530.04 274.30,531.60C275.33,533.16 276.40,534.82 277.40,536.25C278.40,537.68 278.62,538.12 280.30,540.20C281.98,542.28 285.05,546.58 287.50,548.75C289.95,550.92 292.08,552.21 295.00,553.25C297.92,554.29 301.67,554.92 305.00,555.00C308.33,555.08 312.08,554.04 315.00,553.75C317.92,553.46 320.00,553.08 322.50,553.25C325.00,553.42 327.08,553.67 330.00,554.80C332.92,555.92 337.08,558.80 340.00,560.00C342.92,561.20 345.00,561.46 347.50,562.00C350.00,562.54 352.08,562.83 355.00,563.25C357.92,563.67 361.67,564.04 365.00,564.50C368.33,564.96 371.67,565.62 375.00,566.00C378.33,566.38 381.87,566.67 385.00,566.80C388.13,566.93 390.87,566.80 393.81,566.80C396.74,566.80 399.68,566.80 402.62,566.80C405.55,566.80 408.49,566.80 411.42,566.80C414.36,566.80 417.29,566.80 420.23,566.80C423.17,566.80 426.10,566.80 429.04,566.80C431.97,566.80 434.91,566.80 437.85,566.80C440.78,566.80 443.72,566.80 446.65,566.80C449.59,566.80 452.53,566.80 455.46,566.80C458.40,566.80 461.33,566.80 464.27,566.80C467.21,566.80 470.14,566.80 473.08,566.80C476.01,566.80 478.95,566.80 481.88,566.80C484.82,566.80 487.76,566.80 490.69,566.80C493.63,566.80 496.56,566.80 499.50,566.80C502.44,566.80 505.37,566.80 508.31,566.80C511.24,566.80 514.18,566.80 517.12,566.80C520.05,566.80 522.99,566.80 525.92,566.80C528.86,566.80 531.79,566.80 534.73,566.80C537.67,566.80 540.60,566.80 543.54,566.80C546.47,566.80 549.41,566.80 552.35,566.80C555.28,566.80 558.22,566.80 561.15,566.80C564.09,566.80 567.03,566.80 569.96,566.80C572.90,566.80 575.83,566.80 578.77,566.80C581.71,566.80 584.64,566.80 587.58,566.80C590.51,566.80 593.45,566.80 596.38,566.80C599.32,566.80 602.26,566.80 605.19,566.80C608.13,566.80 612.53,566.80 614.00,566.80 L614.00,566.80 L178.00,566.80 Z" fill="rgb(248,118,109)" fill-opacity="0.75" stroke="none"/>
<path d="M178.00,566.75C180.33,566.73 188.50,566.69 192.00,566.60C195.50,566.51 196.83,566.45 199.00,566.20C201.17,565.95 202.96,565.92 205.00,565.10C207.04,564.28 209.42,562.82 211.25,561.30C213.08,559.78 214.57,557.83 216.00,556.00C217.43,554.17 218.57,552.30 219.80,550.30C221.03,548.30 222.22,546.08 223.40,544.00C224.58,541.92 225.80,539.75 226.90,537.80C228.00,535.85 228.97,534.12 230.00,532.30C231.03,530.48 232.07,528.70 233.10,526.90C234.13,525.10 235.15,523.20 236.20,521.50C237.25,519.80 238.35,518.07 239.40,516.70C240.45,515.33 241.47,514.25 242.50,513.30C243.53,512.35 244.60,511.63 245.60,511.00C246.60,510.37 247.55,509.83 248.50,509.50C249.45,509.17 250.30,509.02 251.30,509.00C252.30,508.98 253.37,509.02 254.50,509.40C255.63,509.77 256.97,510.48 258.10,511.25C259.23,512.02 260.20,512.96 261.30,514.00C262.40,515.04 263.58,516.17 264.70,517.50C265.82,518.83 266.92,520.43 268.00,522.00C269.08,523.57 270.15,525.30 271.20,526.90C272.25,528.50 273.27,530.04 274.30,531.60C275.33,533.16 276.40,534.82 277.40,536.25C278.40,537.68 278.62,538.12 280.30,540.20C281.98,542.28 285.05,546.58 287.50,548.75C289.95,550.92 292.08,552.21 295.00,553.25C297.92,554.29 301.67,554.92 305.00,555.00C308.33,555.08 312.08,554.04 315.00,553.75C317.92,553.46 320.00,553.08 322.50,553.25C325.00,553.42 327.08,553.67 330.00,554.80C332.92,555.92 337.08,558.80 340.00,560.00C342.92,561.20 345.00,561.46 347.50,562.00C350.00,562.54 352.08,562.83 355.00,563.25C357.92,563.67 361.67,564.04 365.00,564.50C368.33,564.96 371.67,565.62 375.00,566.00C378.33,566.38 381.87,566.67 385.00,566.80C388.13,566.93 390.87,566.80 393.81,566.80C396.74,566.80 399.68,566.80 402.62,566.80C405.55,566.80 408.49,566.80 411.42,566.80C414.36,566.80 417.29,566.80 420.23,566.80C423.17,566.80 426.10,566.80 429.04,566.80C431.97,566.80 434.91,566.80 437.85,566.80C440.78,566.80 443.72,566.80 446.65,566.80C449.59,566.80 452.53,566.80 455.46,566.80C458.40,566.80 461.33,566.80 464.27,566.80C467.21,566.80 470.14,566.80 473.08,566.80C476.01,566.80 478.95,566.80 481.88,566.80C484.82,566.80 487.76,566.80 490.69,566.80C493.63,566.80 496.56,566.80 499.50,566.80C502.44,566.80 505.37,566.80 508.31,566.80C511.24,566.80 514.18,566.80 517.12,566.80C520.05,566.80 522.99,566.80 525.92,566.80C528.86,566.80 531.79,566.80 534.73,566.80C537.67,566.80 540.60,566.80 543.54,566.80C546.47,566.80 549.41,566.80 552.35,566.80C555.28,566.80 558.22,566.80 561.15,566.80C564.09,566.80 567.03,566.80 569.96,566.80C572.90,566.80 575.83,566.80 578.77,566.80C581.71,566.80 584.64,566.80 587.58,566.80C590.51,566.80 593.45,566.80 596.38,566.80C599.32,566.80 602.26,566.80 605.19,566.80C608.13,566.80 612.53,566.80 614.00,566.80" fill="none" stroke="#202020" stroke-width="1.65" stroke-linejoin="round"/></g>
<text transform="translate(152.50,111.55) scale(0.96,1)" font-size="15.6" fill="#4d4d4d" stroke="#4d4d4d" stroke-width="0.2" text-anchor="end">Almost Certainly</text>
<text transform="translate(152.50,140.35) scale(0.96,1)" font-size="15.6" fill="#4d4d4d" stroke="#4d4d4d" stroke-width="0.2" text-anchor="end">Highly Likely</text>
<text transform="translate(152.50,169.15) scale(0.96,1)" font-size="15.6" fill="#4d4d4d" stroke="#4d4d4d" stroke-width="0.2" text-anchor="end">Very Good Chance</text>
<text transform="translate(152.50,197.95) scale(0.96,1)" font-size="15.6" fill="#4d4d4d" stroke="#4d4d4d" stroke-width="0.2" text-anchor="end">Probable</text>
<text transform="translate(152.50,226.75) scale(0.96,1)" font-size="15.6" fill="#4d4d4d" stroke="#4d4d4d" stroke-width="0.2" text-anchor="end">Likely</text>
<text transform="translate(152.50,255.55) scale(0.96,1)" font-size="15.6" fill="#4d4d4d" stroke="#4d4d4d" stroke-width="0.2" text-anchor="end">We Believe</text>
<text transform="translate(152.50,284.35) scale(0.96,1)" font-size="15.6" fill="#4d4d4d" stroke="#4d4d4d" stroke-width="0.2" text-anchor="end">Probably</text>
<text transform="translate(152.50,313.15) scale(0.96,1)" font-size="15.6" fill="#4d4d4d" stroke="#4d4d4d" stroke-width="0.2" text-anchor="end">Better Than Even</text>
<text transform="translate(152.50,341.95) scale(0.96,1)" font-size="15.6" fill="#4d4d4d" stroke="#4d4d4d" stroke-width="0.2" text-anchor="end">About Even</text>
<text transform="translate(152.50,370.75) scale(0.96,1)" font-size="15.6" fill="#4d4d4d" stroke="#4d4d4d" stroke-width="0.2" text-anchor="end">We Doubt</text>
<text transform="translate(152.50,399.55) scale(0.96,1)" font-size="15.6" fill="#4d4d4d" stroke="#4d4d4d" stroke-width="0.2" text-anchor="end">Improbable</text>
<text transform="translate(152.50,428.35) scale(0.96,1)" font-size="15.6" fill="#4d4d4d" stroke="#4d4d4d" stroke-width="0.2" text-anchor="end">Unlikely</text>
<text transform="translate(152.50,457.15) scale(0.96,1)" font-size="15.6" fill="#4d4d4d" stroke="#4d4d4d" stroke-width="0.2" text-anchor="end">Probably Not</text>
<text transform="translate(152.50,485.95) scale(0.96,1)" font-size="15.6" fill="#4d4d4d" stroke="#4d4d4d" stroke-width="0.2" text-anchor="end">Little Chance</text>
<text transform="translate(152.50,514.75) scale(0.96,1)" font-size="15.6" fill="#4d4d4d" stroke="#4d4d4d" stroke-width="0.2" text-anchor="end">Almost No Chance</text>
<text transform="translate(152.50,543.55) scale(0.96,1)" font-size="15.6" fill="#4d4d4d" stroke="#4d4d4d" stroke-width="0.2" text-anchor="end">Highly Unlikely</text>
<text transform="translate(152.50,572.35) scale(0.96,1)" font-size="15.6" fill="#4d4d4d" stroke="#4d4d4d" stroke-width="0.2" text-anchor="end">Chances Are Slight</text>
<text transform="translate(215.60,600.00) scale(0.968,1)" font-size="15.6" fill="#4d4d4d" stroke="#4d4d4d" stroke-width="0.2" text-anchor="middle">0%</text>
<text transform="translate(251.67,600.00) scale(0.968,1)" font-size="15.6" fill="#4d4d4d" stroke="#4d4d4d" stroke-width="0.2" text-anchor="middle">10%</text>
<text transform="translate(287.74,600.00) scale(0.968,1)" font-size="15.6" fill="#4d4d4d" stroke="#4d4d4d" stroke-width="0.2" text-anchor="middle">20%</text>
<text transform="translate(323.81,600.00) scale(0.968,1)" font-size="15.6" fill="#4d4d4d" stroke="#4d4d4d" stroke-width="0.2" text-anchor="middle">30%</text>
<text transform="translate(359.88,600.00) scale(0.968,1)" font-size="15.6" fill="#4d4d4d" stroke="#4d4d4d" stroke-width="0.2" text-anchor="middle">40%</text>
<text transform="translate(395.95,600.00) scale(0.968,1)" font-size="15.6" fill="#4d4d4d" stroke="#4d4d4d" stroke-width="0.2" text-anchor="middle">50%</text>
<text transform="translate(432.02,600.00) scale(0.968,1)" font-size="15.6" fill="#4d4d4d" stroke="#4d4d4d" stroke-width="0.2" text-anchor="middle">60%</text>
<text transform="translate(468.09,600.00) scale(0.968,1)" font-size="15.6" fill="#4d4d4d" stroke="#4d4d4d" stroke-width="0.2" text-anchor="middle">70%</text>
<text transform="translate(504.16,600.00) scale(0.968,1)" font-size="15.6" fill="#4d4d4d" stroke="#4d4d4d" stroke-width="0.2" text-anchor="middle">80%</text>
<text transform="translate(540.23,600.00) scale(0.968,1)" font-size="15.6" fill="#4d4d4d" stroke="#4d4d4d" stroke-width="0.2" text-anchor="middle">90%</text>
<text transform="translate(576.30,600.00) scale(0.968,1)" font-size="15.6" fill="#4d4d4d" stroke="#4d4d4d" stroke-width="0.2" text-anchor="middle">100%</text>
<text transform="translate(395.60,621.10) scale(0.963,1)" font-size="18.8" fill="#4d4d4d" stroke="#4d4d4d" stroke-width="0.2" text-anchor="middle">Assigned Probability</text>
<text transform="translate(157.80,19.40) scale(0.983,1)" font-size="21.7" fill="#1a1a1a" stroke="#1a1a1a" stroke-width="0.3" text-anchor="start">Perceptions of Probability</text>
<text transform="translate(634.90,632.40) scale(0.935,1)" font-size="10.1" fill="#111111" text-anchor="end">created by /u/zonination</text>
</svg></body></html>
